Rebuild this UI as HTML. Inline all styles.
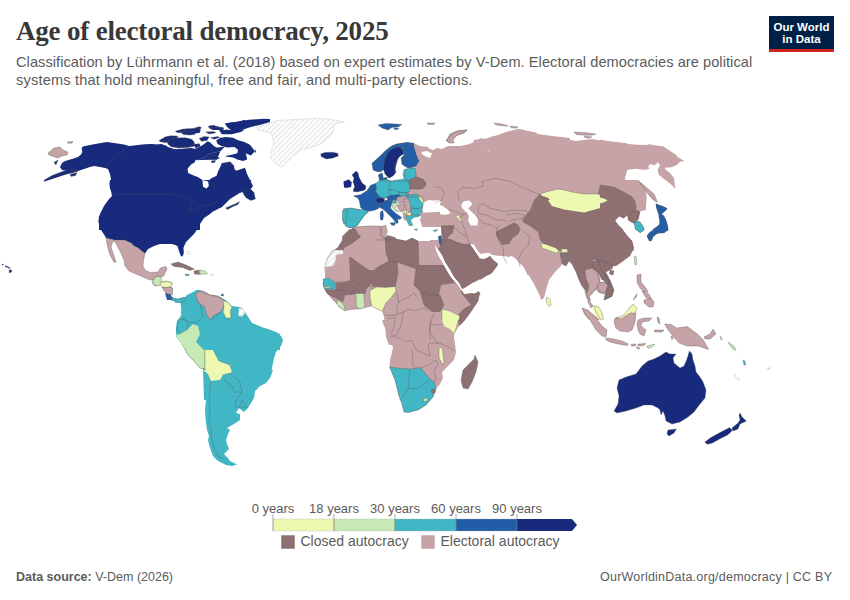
<!DOCTYPE html>
<html><head><meta charset="utf-8">
<style>
html,body{margin:0;padding:0;background:#fff;}
body{width:850px;height:600px;position:relative;overflow:hidden;font-family:"Liberation Sans",sans-serif;}
.t{position:absolute;white-space:nowrap;}
#title{left:16px;top:15px;font-family:"Liberation Serif",serif;font-weight:bold;font-size:27px;color:#383838;letter-spacing:-0.19px;line-height:32px;}
.sub{left:16px;font-size:14.6px;color:#5b5b5b;line-height:18px;}
#logo{position:absolute;left:769px;top:16px;width:65px;height:36px;background:#002147;}
#logo .bar{position:absolute;left:0;bottom:0;width:65px;height:3px;background:#ce261e;}
#logo .lt{position:absolute;left:0;width:65px;text-align:center;color:#fff;font-weight:bold;font-size:11.5px;line-height:12px;}
#map{position:absolute;left:0;top:0;}
.lab{font-size:13px;color:#5b5b5b;}
#foot1{left:16px;top:570px;font-size:12.5px;color:#5b5b5b;}
#foot2{left:600px;top:570px;font-size:12.5px;color:#5b5b5b;letter-spacing:0.23px;}
</style></head><body>
<div class="t" id="title">Age of electoral democracy, 2025</div>
<div class="t sub" style="top:52.5px;letter-spacing:0.055px">Classification by Lührmann et al. (2018) based on expert estimates by V-Dem. Electoral democracies are political</div>
<div class="t sub" style="top:70.8px;letter-spacing:0.17px">systems that hold meaningful, free and fair, and multi-party elections.</div>
<div id="logo"><div class="lt" style="top:5px">Our World</div><div class="lt" style="top:17px">in Data</div><div class="bar"></div></div>

<svg id="map" width="850" height="600" viewBox="0 0 850 600">
<defs><pattern id="hatch" width="3.6" height="3.6" patternUnits="userSpaceOnUse" patternTransform="rotate(45)"><rect width="3.6" height="3.6" fill="#fff"/><line x1="0.6" y1="0" x2="0.6" y2="3.6" stroke="#e2e2e2" stroke-width="1.1"/></pattern></defs>
<g id="land">
<path d="M81.6 148.0 83.0 146.6 90.0 145.0 98.0 143.6 107.0 142.0 114.0 143.0 124.0 144.4 129.0 146.0 134.0 145.6 142.0 144.4 150.0 144.0 158.0 145.0 168.0 147.0 174.0 149.0 182.0 150.0 190.0 149.0 200.0 150.0 200.0 230.0 99.0 230.0 99.0 222.0 100.0 214.0 104.0 206.0 109.0 199.0 112.0 196.0 111.0 191.0 110.0 186.0 111.0 180.0 110.0 174.0 108.0 169.0 105.0 168.0 100.0 167.0 94.0 166.0 90.0 167.0 84.0 169.0 78.0 171.0 72.0 173.0 67.0 174.0 58.0 177.0 48.0 180.0 44.4 181.0 45.0 180.0 56.0 176.0 66.0 172.4 68.0 171.0 62.0 170.0 60.0 167.0 62.0 163.0 65.0 161.0 72.0 159.0 78.0 157.0 81.0 154.4 82.4 152.0Z" fill="#172a7c"/>
<path d="M150.0 150.0 207.0 150.0 234.0 160.0 242.0 168.0 245.0 167.0 247.0 174.0 251.0 182.0 253.0 186.0 250.0 190.0 244.0 192.0 238.0 193.0 230.0 195.0 224.0 198.0 218.0 201.0 216.0 204.0 214.0 210.0 210.0 214.0 204.0 218.0 200.0 224.0 199.0 230.0 150.0 230.0Z" fill="#172a7c"/>
<path d="M150.0 143.9 155.7 144.6 161.3 143.9 167.0 146.0 168.4 149.5 175.5 149.5 182.6 148.8 191.1 148.1 198.2 149.5 203.8 147.4 206.7 144.6 209.5 146.0 212.3 150.2 218.0 153.1 223.7 154.5 229.3 153.1 235.0 155.9 233.6 165.8 229.3 165.8 223.7 160.2 220.8 161.6 215.2 160.2 209.5 158.7 203.8 158.7 198.2 160.2 191.1 164.4 187.5 168.7 188.2 172.9 150.0 172.9Z" fill="#172a7c"/>
<path d="M187.5 168.7 191.1 164.4 198.2 160.2 203.8 158.7 209.5 158.7 215.2 160.2 220.8 161.6 220.8 165.8 218.0 171.5 216.6 175.7 210.9 178.6 208.1 181.4 208.8 185.7 206.7 188.5 203.1 187.1 202.4 180.0 198.2 177.2 192.5 175.0 188.2 172.9Z" fill="#fff"/>
<path d="M209.5 154.5 216.6 153.8 220.8 157.3 218.0 161.6 212.3 160.2Z" fill="#172a7c" stroke="#555" stroke-opacity="0.7" stroke-width="0.5"/>
<path d="M233.6 165.8 239.2 163.0 246.3 158.7 247.7 161.6 240.7 168.7 235.0 170.1Z" fill="#fff"/>
<path d="M216.6 140.3 223.7 137.5 232.2 137.5 240.7 140.3 249.2 144.6 255.5 150.2 252.0 154.5 247.7 153.1 246.6 158.7 239.2 161.6 233.6 157.3 230.7 153.1 226.5 150.2 220.8 147.4 216.6 144.6Z" fill="#172a7c" stroke="#555" stroke-opacity="0.7" stroke-width="0.5"/>
<path d="M225.1 123.3 235.0 121.9 249.2 119.8 263.3 118.8 270.0 119.1 270.0 121.9 260.5 124.7 249.2 127.6 240.7 130.4 235.0 131.8 229.3 129.0 226.5 126.2Z" fill="#172a7c"/>
<path d="M208.1 126.2 213.7 125.5 219.4 126.9 223.7 129.0 220.8 131.8 213.7 130.4 209.5 128.3Z" fill="#172a7c" stroke="#555" stroke-opacity="0.7" stroke-width="0.5"/>
<path d="M218.0 133.2 226.5 132.5 237.8 133.2 235.0 136.1 225.1 136.8 219.4 135.4Z" fill="#172a7c" stroke="#555" stroke-opacity="0.7" stroke-width="0.5"/>
<path d="M175.5 131.1 185.4 129.0 195.3 128.3 199.6 126.9 201.0 129.0 196.7 131.8 186.8 133.2 178.3 132.5Z" fill="#172a7c" stroke="#555" stroke-opacity="0.7" stroke-width="0.5"/>
<path d="M205.2 131.8 212.3 131.1 215.2 133.2 210.9 134.7 205.9 134.0Z" fill="#172a7c" stroke="#555" stroke-opacity="0.7" stroke-width="0.5"/>
<path d="M159.2 141.0 165.6 136.8 175.5 136.1 178.3 139.6 172.7 142.5 164.2 142.5Z" fill="#172a7c" stroke="#555" stroke-opacity="0.7" stroke-width="0.5"/>
<path d="M168.4 140.3 178.3 138.9 189.7 138.9 193.9 141.7 195.3 146.0 188.2 147.4 178.3 148.1 171.2 146.7 167.7 143.9Z" fill="#172a7c" stroke="#555" stroke-opacity="0.7" stroke-width="0.5"/>
<path d="M198.2 138.9 203.8 137.5 209.5 136.8 212.3 140.3 209.5 146.0 203.8 146.7 199.6 144.6Z" fill="#172a7c" stroke="#555" stroke-opacity="0.7" stroke-width="0.5"/>
<path d="M242.4 191.0 250.0 188.6 254.0 192.4 255.4 199.0 251.0 200.4 246.4 198.0 244.0 195.0Z" fill="#172a7c" stroke="#555" stroke-opacity="0.7" stroke-width="0.5"/>
<path d="M225.6 208.0 236.0 203.6 239.6 201.6 238.0 204.4 233.0 206.4 227.6 209.4Z" fill="#172a7c" stroke="#555" stroke-opacity="0.7" stroke-width="0.5"/>
<path d="M255.6 127.7 262.7 124.9 276.8 120.6 289.6 119.9 299.5 119.2 313.7 118.5 325.0 118.8 333.5 119.9 344.8 122.0 336.3 123.5 333.5 125.6 334.2 129.8 330.7 135.5 325.0 140.5 319.3 144.7 310.8 147.5 302.3 149.7 293.8 155.3 286.7 162.4 282.5 166.7 279.7 166.7 274.0 162.4 270.5 156.7 271.2 149.7 274.0 144.0 272.6 138.3 271.2 132.7 262.7 131.2 257.0 129.8Z" fill="url(#hatch)" stroke="#ccc" stroke-width="0.5"/>
<path d="M110.0 180.0 109.4 184.0 110.0 189.0 114.6 194.6 113.2 198.0 108.2 202.0 104.0 208.0 101.0 214.0 99.0 216.0 98.4 222.0 101.0 230.0 105.0 236.0 106.0 238.0 114.0 240.0 124.0 240.0 131.0 243.0 134.0 246.0 138.0 248.0 143.0 252.0 145.0 253.6 148.0 249.0 154.0 246.0 160.0 244.0 166.0 244.0 172.0 244.0 178.0 246.0 180.0 251.0 181.0 256.4 183.2 255.2 183.2 248.0 186.0 242.0 190.0 238.0 194.0 234.0 198.0 228.0 199.0 223.0 203.0 218.0 210.0 213.0 216.0 210.0 222.0 207.0 230.0 199.0 238.0 194.0 244.0 190.0 248.0 184.0 252.0 180.0Z" fill="#172a7c"/>
<path d="M106.0 238.0 114.0 240.0 124.0 240.0 131.0 243.0 134.0 246.0 138.0 248.0 143.0 252.0 145.0 253.6 143.6 260.0 143.0 266.0 145.0 270.0 150.0 272.4 158.0 272.0 160.4 268.0 166.0 266.4 167.0 269.0 163.6 276.0 158.0 278.0 154.0 280.0 150.0 280.0 143.0 277.0 136.0 274.0 129.0 271.0 125.0 266.0 124.0 260.0 120.0 251.0 115.0 242.0 113.0 241.0 111.0 247.0 114.0 256.0 116.0 262.0 114.0 262.4 110.0 255.0 107.6 247.0Z" fill="#c6a3a6" stroke="#555" stroke-opacity="0.7" stroke-width="0.5"/>
<path d="M154.0 278.0 159.0 276.0 160.0 281.0 159.0 285.0 155.0 286.0 152.0 283.0Z" fill="#c7e9b4" stroke="#555" stroke-opacity="0.7" stroke-width="0.5"/>
<path d="M159.0 282.0 166.0 281.0 172.0 282.4 170.0 286.0 166.0 287.0 162.0 286.0Z" fill="#edf8b1" stroke="#555" stroke-opacity="0.7" stroke-width="0.5"/>
<path d="M162.0 286.4 166.0 287.0 170.4 286.0 172.4 289.0 171.0 295.0 167.0 294.0 164.0 290.0Z" fill="#c6a3a6" stroke="#555" stroke-opacity="0.7" stroke-width="0.5"/>
<path d="M165.0 293.0 171.0 295.0 172.0 300.0 167.0 300.0Z" fill="#225ea8"/>
<path d="M172.0 298.0 178.0 299.0 184.0 297.0 190.0 298.0 198.0 295.6 199.0 300.0 172.0 300.0Z" fill="#41b6c4"/>
<path d="M171.0 264.0 178.0 262.0 186.0 265.0 194.4 269.0 190.0 270.4 182.4 267.4 174.0 266.4Z" fill="#8e7072" stroke="#555" stroke-opacity="0.7" stroke-width="0.5"/>
<path d="M185.0 274.0 189.4 274.4 188.4 276.0 185.6 275.6Z" fill="#41b6c4" stroke="#555" stroke-opacity="0.7" stroke-width="0.5"/>
<path d="M194.0 271.0 199.0 270.0 199.6 274.4 194.4 274.0Z" fill="#8e7072" stroke="#555" stroke-opacity="0.7" stroke-width="0.5"/>
<path d="M199.6 270.0 205.0 271.0 207.6 273.6 200.0 274.4Z" fill="#c7e9b4" stroke="#555" stroke-opacity="0.7" stroke-width="0.5"/>
<path d="M172.0 299.0 177.0 302.0 180.0 299.0 183.0 299.0 187.0 295.0 193.0 292.0 198.0 290.0 204.0 291.6 210.0 295.0 218.0 296.0 223.0 299.0 227.0 302.0 231.0 308.0 236.0 307.6 242.0 308.0 244.0 313.0 248.0 321.0 254.0 324.0 260.0 327.0 268.0 329.0 276.0 332.0 281.0 336.0 283.0 340.0 281.0 346.0 276.0 352.0 274.0 358.0 272.0 368.0 271.0 376.0 266.0 382.0 259.0 386.0 254.0 392.0 253.0 400.0 204.0 400.0 203.0 369.0 200.0 368.0 194.0 361.0 188.0 355.0 182.0 344.0 176.0 336.0 176.0 328.0 177.0 321.0 182.0 318.0 181.0 313.0 182.0 306.0 180.0 301.0 176.0 303.0Z" fill="#41b6c4"/>
<path d="M198.0 290.0 204.0 291.6 210.0 295.0 218.0 296.0 223.0 299.0 223.0 300.0 226.0 304.0 225.0 308.0 222.0 311.0 216.0 317.0 210.0 320.0 207.0 315.0 205.0 309.0 200.0 304.0 197.0 299.0 195.0 295.0Z" fill="#c6a3a6" stroke="#555" stroke-opacity="0.7" stroke-width="0.5"/>
<path d="M223.0 300.0 227.0 302.0 231.0 308.0 230.0 312.0 231.0 316.0 227.0 318.0 225.0 312.0 225.6 306.0Z" fill="#edf8b1" stroke="#555" stroke-opacity="0.7" stroke-width="0.5"/>
<path d="M238.0 309.0 242.0 308.0 244.0 313.0 241.0 316.0 238.0 315.6Z" fill="#f4f4f4" stroke="#555" stroke-opacity="0.7" stroke-width="0.5"/>
<path d="M176.0 334.0 180.0 334.0 189.0 324.0 195.0 323.0 200.0 329.0 198.0 335.0 194.0 340.0 205.0 349.0 205.0 369.0 200.0 368.0 194.0 361.0 188.0 355.0 182.0 344.0Z" fill="#c7e9b4" stroke="#555" stroke-opacity="0.7" stroke-width="0.5"/>
<path d="M205.0 349.0 212.0 348.0 219.0 361.0 230.0 365.0 232.0 372.0 223.0 374.0 218.0 378.0 216.0 381.0 210.0 382.0 208.0 374.0 205.0 369.0Z" fill="#edf8b1" stroke="#555" stroke-opacity="0.7" stroke-width="0.5"/>
<path d="M203.0 370.0 205.0 378.0 205.0 390.0 206.0 400.0 205.0 410.0 205.6 420.0 207.0 430.0 209.0 436.0 208.0 440.0 210.0 448.0 213.0 456.0 218.0 461.0 226.0 465.0 232.0 466.0 237.0 464.4 230.0 461.0 227.0 457.0 224.0 454.0 229.0 449.0 227.0 444.0 226.0 440.0 228.0 434.0 230.0 430.0 227.0 428.0 234.0 424.0 240.0 420.0 240.0 414.0 236.0 413.0 239.0 408.0 244.0 412.0 248.0 408.0 254.0 398.0 255.0 391.0 260.0 386.0 266.0 383.0 270.0 378.0 273.0 370.0Z" fill="#41b6c4"/>
<path d="M203.0 370.0 232.0 370.0 231.0 373.0 223.0 375.0 220.0 380.0 211.0 381.0 208.0 374.0Z" fill="#edf8b1"/>
<path d="M413.0 143.0 420.0 146.0 428.0 147.0 432.0 153.0 440.0 152.0 448.0 148.0 460.0 147.0 472.0 143.0 480.0 139.0 490.0 138.0 490.0 235.0 424.0 235.0 420.0 219.0 418.0 213.0 428.0 212.0 424.0 207.0 416.0 205.0 408.0 199.0 406.0 195.0 409.0 192.0 410.0 188.0 409.0 181.0 414.0 168.0 419.0 161.0 416.0 151.0 414.0 145.0Z" fill="#c6a3a6"/>
<path d="M446.0 141.0 450.0 134.0 458.0 130.6 467.0 130.0 464.0 133.0 458.0 135.0 452.0 138.0 449.0 142.0Z" fill="#c6a3a6" stroke="#555" stroke-opacity="0.7" stroke-width="0.5"/>
<path d="M427.0 123.0 435.0 123.0 434.0 124.4 428.0 124.4Z" fill="#c6a3a6" stroke="#555" stroke-opacity="0.7" stroke-width="0.5"/>
<path d="M320.7 153.9 325.0 152.5 332.1 152.2 337.7 153.2 338.4 156.0 332.1 158.2 326.4 158.9 321.4 156.7Z" fill="#172a7c" stroke="#555" stroke-opacity="0.7" stroke-width="0.5"/>
<path d="M378.0 125.0 386.0 123.4 396.0 124.0 402.0 124.6 398.0 127.0 392.0 127.4 388.0 130.0 382.0 128.0Z" fill="#225ea8" stroke="#555" stroke-opacity="0.7" stroke-width="0.5"/>
<path d="M394.0 128.0 399.0 128.2 397.6 129.6 394.4 129.4Z" fill="#225ea8" stroke="#555" stroke-opacity="0.7" stroke-width="0.5"/>
<path d="M372.4 164.0 375.0 160.6 380.0 156.0 385.0 151.0 390.0 147.0 396.0 144.0 406.0 142.6 414.0 143.4 413.6 145.4 408.0 146.2 403.0 148.2 399.0 146.6 392.0 148.0 387.0 153.0 386.0 159.0 385.0 169.0 380.0 172.0 375.0 170.0Z" fill="#225ea8" stroke="#555" stroke-opacity="0.7" stroke-width="0.5"/>
<path d="M386.0 159.0 387.0 153.0 392.0 148.0 399.0 146.6 403.0 149.0 402.0 154.0 398.0 158.0 396.0 165.0 394.4 174.0 389.0 178.0 386.0 173.0 384.4 166.0Z" fill="#172a7c" stroke="#555" stroke-opacity="0.7" stroke-width="0.5"/>
<path d="M403.0 149.0 408.0 146.6 413.6 145.0 416.0 151.0 419.0 161.0 414.0 167.0 408.0 168.0 402.0 164.0 401.0 158.0 404.0 155.0 406.4 152.6Z" fill="#225ea8" stroke="#555" stroke-opacity="0.7" stroke-width="0.5"/>
<path d="M404.0 169.4 414.0 168.0 416.0 175.0 413.0 181.0 405.0 181.0 403.0 175.0Z" fill="#41b6c4" stroke="#555" stroke-opacity="0.7" stroke-width="0.5"/>
<path d="M409.0 181.0 416.0 177.0 422.0 179.0 426.0 183.0 424.0 187.0 418.0 189.0 410.0 188.0Z" fill="#8e7072" stroke="#555" stroke-opacity="0.7" stroke-width="0.5"/>
<path d="M378.6 175.0 382.0 173.0 383.6 179.0 379.6 181.4Z" fill="#225ea8" stroke="#555" stroke-opacity="0.7" stroke-width="0.5"/>
<path d="M384.0 178.0 387.0 177.4 386.6 180.0 384.0 180.0Z" fill="#225ea8" stroke="#555" stroke-opacity="0.7" stroke-width="0.5"/>
<path d="M391.0 181.0 404.0 179.0 409.0 181.0 410.0 188.0 408.0 193.0 400.0 194.0 393.0 191.0 391.0 187.0Z" fill="#41b6c4" stroke="#555" stroke-opacity="0.7" stroke-width="0.5"/>
<path d="M376.0 186.0 380.0 180.0 386.0 179.0 391.0 181.0 391.0 187.0 393.0 191.0 390.0 195.0 391.0 198.0 382.0 198.0 377.0 195.0Z" fill="#41b6c4" stroke="#555" stroke-opacity="0.7" stroke-width="0.5"/>
<path d="M386.0 192.0 393.0 189.4 400.0 188.4 408.0 192.0 409.0 197.0 402.0 199.4 396.0 200.0 389.0 196.0Z" fill="#41b6c4" stroke="#555" stroke-opacity="0.7" stroke-width="0.5"/>
<path d="M387.0 196.0 397.0 195.4 396.4 200.0 387.6 200.6Z" fill="#225ea8" stroke="#555" stroke-opacity="0.7" stroke-width="0.5"/>
<path d="M352.0 175.0 356.0 171.0 358.0 173.0 359.0 177.0 362.0 183.0 366.0 186.0 364.4 190.0 357.0 192.0 353.0 190.4 355.0 186.0 353.0 182.0 354.0 178.0Z" fill="#172a7c" stroke="#555" stroke-opacity="0.7" stroke-width="0.5"/>
<path d="M344.0 183.0 348.0 179.4 351.6 182.0 351.0 187.0 345.0 187.4Z" fill="#172a7c" stroke="#555" stroke-opacity="0.7" stroke-width="0.5"/>
<path d="M371.0 188.0 375.0 184.0 377.0 187.0 377.0 194.0 372.0 194.0Z" fill="#225ea8" stroke="#555" stroke-opacity="0.7" stroke-width="0.5"/>
<path d="M354.0 196.0 363.0 195.0 370.0 189.0 376.0 193.0 380.0 197.0 378.0 203.0 380.0 209.0 376.0 211.0 368.0 209.0 363.0 209.0 361.0 205.0 360.0 199.0Z" fill="#225ea8" stroke="#555" stroke-opacity="0.7" stroke-width="0.5"/>
<path d="M381.6 210.6 383.6 210.0 383.2 214.6 381.6 214.0Z" fill="#225ea8" stroke="#555" stroke-opacity="0.7" stroke-width="0.5"/>
<path d="M376.0 199.0 382.0 198.0 384.4 201.0 380.0 203.4 376.4 202.2Z" fill="#172a7c" stroke="#555" stroke-opacity="0.7" stroke-width="0.5"/>
<path d="M379.6 203.4 386.0 200.0 391.0 201.0 392.0 206.0 396.0 211.0 402.0 216.0 402.4 219.0 399.6 221.0 397.0 219.0 395.0 223.0 392.0 221.0 389.0 214.0 384.0 209.0 381.0 206.6Z" fill="#225ea8" stroke="#555" stroke-opacity="0.7" stroke-width="0.5"/>
<path d="M380.0 213.0 383.0 212.0 383.6 220.0 380.4 220.6Z" fill="#225ea8" stroke="#555" stroke-opacity="0.7" stroke-width="0.5"/>
<path d="M390.0 223.0 396.4 222.0 395.0 226.2Z" fill="#225ea8" stroke="#555" stroke-opacity="0.7" stroke-width="0.5"/>
<path d="M344.4 209.0 350.0 208.0 358.0 209.4 368.4 211.4 366.4 215.0 361.0 220.6 358.4 226.0 352.0 228.0 345.6 226.2 343.0 219.0 345.0 213.4Z" fill="#41b6c4" stroke="#555" stroke-opacity="0.7" stroke-width="0.5"/>
<path d="M391.0 200.0 408.0 195.0 418.0 195.0 424.4 205.0 422.4 213.4 416.4 219.4 412.4 227.4 408.0 224.0 404.0 216.0 399.0 210.0 393.6 205.4Z" fill="#c6a3a6" stroke="#555" stroke-opacity="0.7" stroke-width="0.5"/>
<path d="M392.4 201.0 399.0 201.4 404.0 209.0 399.0 209.4 394.4 205.0Z" fill="#c7e9b4" stroke="#555" stroke-opacity="0.7" stroke-width="0.5"/>
<path d="M402.0 200.6 408.0 202.6 409.6 210.6 404.0 213.0 401.0 207.0Z" fill="#c6a3a6" stroke="#555" stroke-opacity="0.7" stroke-width="0.5"/>
<path d="M406.0 196.0 416.0 194.0 422.0 197.0 424.0 205.0 414.0 208.6 408.0 205.0Z" fill="#41b6c4" stroke="#555" stroke-opacity="0.7" stroke-width="0.5"/>
<path d="M417.6 196.0 422.0 197.0 424.0 202.0 421.0 203.4Z" fill="#edf8b1" stroke="#555" stroke-opacity="0.7" stroke-width="0.5"/>
<path d="M410.0 209.0 422.4 208.0 421.0 213.0 412.0 214.0Z" fill="#41b6c4" stroke="#555" stroke-opacity="0.7" stroke-width="0.5"/>
<path d="M405.6 215.0 414.0 214.0 416.4 219.0 412.4 227.0 408.0 223.0Z" fill="#41b6c4" stroke="#555" stroke-opacity="0.7" stroke-width="0.5"/>
<path d="M404.0 210.6 409.0 212.0 408.4 216.0 405.0 215.0Z" fill="#edf8b1" stroke="#555" stroke-opacity="0.7" stroke-width="0.5"/>
<path d="M418.0 213.0 428.0 212.0 440.0 211.0 450.0 214.0 460.0 219.0 458.0 225.0 450.0 227.0 440.0 227.0 428.0 227.0 424.0 223.0 420.0 219.0Z" fill="#c6a3a6" stroke="#555" stroke-opacity="0.7" stroke-width="0.5"/>
<path d="M424.0 207.0 432.0 201.0 438.0 205.0 443.0 206.0 446.4 211.0 440.0 213.0 428.0 215.0 424.0 211.4Z" fill="#fff"/>
<path d="M462.0 203.0 468.0 201.0 472.0 203.0 470.0 209.0 472.0 215.0 478.0 219.0 476.0 226.0 472.0 228.0 468.0 219.0 464.0 213.0Z" fill="#fff"/>
<path d="M455.0 215.0 460.0 216.0 460.0 220.0 457.0 220.0Z" fill="#edf8b1" stroke="#555" stroke-opacity="0.7" stroke-width="0.5"/>
<path d="M434.0 231.0 438.4 230.4 437.0 232.8Z" fill="#41b6c4" stroke="#555" stroke-opacity="0.7" stroke-width="0.5"/>
<path d="M440.0 227.0 452.0 226.0 452.0 235.0 442.0 235.0Z" fill="#8e7072"/>
<path d="M353.0 228.0 360.0 226.0 380.0 225.0 382.0 225.0 384.0 231.0 385.0 237.0 396.0 239.0 406.0 241.0 412.0 238.0 418.0 241.0 428.0 241.0 438.0 242.0 440.0 249.0 448.0 265.0 454.0 275.0 460.0 285.0 462.4 290.0 472.0 291.0 480.0 291.0 478.0 301.0 470.0 313.0 464.0 321.0 459.0 326.0 454.0 334.0 452.0 345.0 389.0 345.0 386.0 337.0 385.0 325.0 384.0 317.0 382.0 311.0 378.0 309.0 372.0 304.0 364.0 305.0 356.0 308.0 345.0 310.0 338.0 305.0 332.0 299.0 328.0 292.0 324.0 287.0 323.0 283.0 324.0 281.0 326.0 273.0 325.0 265.0 328.0 257.0 332.0 251.0 337.0 249.0 342.0 241.0 348.0 233.0Z" fill="#c6a3a6"/>
<path d="M353.0 228.0 358.0 233.0 360.0 236.0 354.0 241.0 346.0 247.0 337.0 249.0 342.0 241.0 348.0 233.0Z" fill="#8e7072" stroke="#555" stroke-opacity="0.7" stroke-width="0.5"/>
<path d="M337.0 249.0 343.0 250.0 343.6 253.0 335.0 259.0 331.0 265.0 325.0 265.0 328.0 257.0 332.0 251.0Z" fill="#f2f2f2" stroke="#555" stroke-opacity="0.7" stroke-width="0.5"/>
<path d="M323.0 283.0 328.0 279.0 334.0 283.0 336.0 289.0 328.0 290.0 324.0 287.0Z" fill="#41b6c4" stroke="#555" stroke-opacity="0.7" stroke-width="0.5"/>
<path d="M350.0 257.0 371.0 272.0 372.4 283.0 366.0 285.0 358.0 284.0 350.0 289.0 346.0 285.0 336.0 285.0 336.0 283.0 350.0 281.0Z" fill="#8e7072" stroke="#555" stroke-opacity="0.7" stroke-width="0.5"/>
<path d="M371.0 272.0 378.0 267.0 389.0 261.0 397.0 262.0 398.0 273.0 395.0 287.4 380.0 287.0 372.4 283.0Z" fill="#8e7072" stroke="#555" stroke-opacity="0.7" stroke-width="0.5"/>
<path d="M350.0 289.0 358.0 284.0 366.0 285.0 370.0 289.0 364.0 293.0 355.0 295.0 350.0 293.0Z" fill="#8e7072" stroke="#555" stroke-opacity="0.7" stroke-width="0.5"/>
<path d="M328.0 291.0 336.0 290.0 343.0 294.0 340.0 299.0 334.0 297.4Z" fill="#8e7072" stroke="#555" stroke-opacity="0.7" stroke-width="0.5"/>
<path d="M337.6 301.4 342.0 302.0 344.4 310.0 339.0 307.0Z" fill="#c7e9b4" stroke="#555" stroke-opacity="0.7" stroke-width="0.5"/>
<path d="M356.0 294.0 363.0 294.0 364.0 305.0 357.0 308.0Z" fill="#c7e9b4" stroke="#555" stroke-opacity="0.7" stroke-width="0.5"/>
<path d="M371.0 289.0 380.0 287.0 393.0 288.0 396.0 291.0 391.0 298.0 386.0 302.0 382.0 310.0 377.0 309.0 372.0 304.0 370.0 297.0Z" fill="#edf8b1" stroke="#555" stroke-opacity="0.7" stroke-width="0.5"/>
<path d="M385.0 237.0 396.0 239.0 406.0 241.0 412.0 238.0 418.0 241.0 419.0 269.4 414.0 268.0 397.0 262.0 389.0 261.0 386.0 253.0Z" fill="#8e7072" stroke="#555" stroke-opacity="0.7" stroke-width="0.5"/>
<path d="M419.0 265.0 448.0 265.0 452.0 277.0 450.0 283.0 444.0 291.0 440.0 295.0 430.0 295.0 420.0 291.0 414.0 285.0 416.0 269.0Z" fill="#8e7072" stroke="#555" stroke-opacity="0.7" stroke-width="0.5"/>
<path d="M420.0 291.0 430.0 295.0 440.0 295.0 444.0 305.0 440.0 311.4 432.0 311.4 424.0 305.0Z" fill="#8e7072" stroke="#555" stroke-opacity="0.7" stroke-width="0.5"/>
<path d="M448.0 271.0 456.0 281.0 460.4 289.0 456.0 289.0 450.0 283.0Z" fill="#8e7072" stroke="#555" stroke-opacity="0.7" stroke-width="0.5"/>
<path d="M460.0 291.0 472.0 291.0 480.0 291.0 478.0 301.0 470.0 313.0 464.0 321.0 459.0 326.0 458.0 315.0 464.0 309.0 471.6 304.6 468.0 301.0Z" fill="#8e7072" stroke="#555" stroke-opacity="0.7" stroke-width="0.5"/>
<path d="M442.0 309.0 450.0 311.0 460.0 316.0 458.0 323.0 454.4 333.4 448.0 327.0 442.0 323.0Z" fill="#edf8b1" stroke="#555" stroke-opacity="0.7" stroke-width="0.5"/>
<path d="M438.0 244.0 442.0 244.0 450.0 257.0 458.0 273.0 462.4 285.0 465.0 290.0 462.4 291.0 460.0 286.0 454.0 275.0 448.0 265.0 440.0 249.0Z" fill="#fff"/>
<path d="M382.0 320.0 384.0 326.0 390.0 336.0 393.0 348.0 390.0 360.0 389.6 367.0 395.0 380.0 399.0 396.0 402.0 404.0 404.0 412.0 408.0 412.4 418.0 410.0 426.0 405.0 433.0 397.0 436.0 389.0 440.0 384.0 443.0 378.0 442.0 372.0 448.0 366.0 454.0 360.0 456.0 352.0 455.0 344.0 454.0 338.0 454.0 332.0 458.0 326.0 463.0 320.0Z" fill="#c6a3a6"/>
<path d="M389.6 367.0 396.0 368.0 410.0 369.0 421.0 368.0 430.0 379.0 434.0 382.0 436.0 389.0 433.0 397.0 426.0 405.0 418.0 410.0 408.0 412.4 404.0 412.0 402.0 404.0 399.0 396.0 395.0 380.0Z" fill="#41b6c4" stroke="#555" stroke-opacity="0.7" stroke-width="0.5"/>
<path d="M431.0 390.0 434.0 389.0 435.6 392.0 432.4 393.6Z" fill="#8e7072" stroke="#555" stroke-opacity="0.7" stroke-width="0.5"/>
<path d="M423.0 399.0 427.0 397.6 428.0 400.4 424.4 402.0Z" fill="#c7e9b4" stroke="#555" stroke-opacity="0.7" stroke-width="0.5"/>
<path d="M439.0 348.0 442.0 347.0 444.0 362.0 443.0 365.0 439.0 358.0Z" fill="#edf8b1" stroke="#555" stroke-opacity="0.7" stroke-width="0.5"/>
<path d="M442.0 320.0 458.0 320.0 454.0 333.0 450.0 329.0 444.0 326.0Z" fill="#edf8b1"/>
<path d="M458.0 320.0 464.0 320.0 459.0 325.0Z" fill="#8e7072"/>
<path d="M475.0 355.0 478.0 362.0 476.0 372.0 472.0 382.0 468.0 389.0 463.0 388.0 461.0 380.0 463.0 370.0 469.0 364.0 474.0 359.0Z" fill="#8e7072" stroke="#555" stroke-opacity="0.7" stroke-width="0.5"/>
<path d="M480.0 138.0 486.0 140.0 490.0 137.0 498.0 135.0 506.0 132.0 518.0 129.0 528.0 131.0 538.0 133.0 534.0 135.0 544.0 136.0 556.0 137.0 566.0 139.0 576.0 141.0 584.0 140.0 592.0 139.0 604.0 141.0 616.0 142.0 628.0 144.0 640.0 145.0 650.0 145.0 650.0 161.0 625.0 165.0 624.0 180.0 636.0 182.0 643.0 190.0 645.0 206.0 638.0 214.0 632.0 222.0 618.0 230.0 480.0 230.0Z" fill="#c6a3a6"/>
<path d="M574.0 132.0 584.0 132.4 596.0 134.0 592.0 135.2 582.0 135.0 576.0 134.4Z" fill="#c6a3a6" stroke="#555" stroke-opacity="0.7" stroke-width="0.5"/>
<path d="M584.0 136.0 592.0 137.0 589.0 138.2 585.0 137.6Z" fill="#c6a3a6" stroke="#555" stroke-opacity="0.7" stroke-width="0.5"/>
<path d="M494.0 123.0 502.0 124.0 508.0 126.0 502.0 125.8 496.0 125.0Z" fill="#c6a3a6" stroke="#555" stroke-opacity="0.7" stroke-width="0.5"/>
<path d="M510.0 126.0 518.0 127.0 516.0 128.2 511.0 127.6Z" fill="#c6a3a6" stroke="#555" stroke-opacity="0.7" stroke-width="0.5"/>
<path d="M520.0 222.0 522.0 218.0 526.0 212.0 534.0 200.0 540.0 194.0 542.0 196.0 548.0 198.0 554.0 204.0 564.0 208.0 576.0 210.0 584.0 213.0 592.0 208.0 598.0 202.0 608.0 199.0 598.0 194.0 600.0 184.0 608.0 185.0 616.0 190.0 630.0 196.0 638.0 198.0 638.0 204.0 634.0 210.0 636.0 220.0 632.0 222.0 624.0 216.0 620.0 222.0 618.0 230.0 520.0 230.0Z" fill="#8e7072"/>
<path d="M540.0 194.0 546.0 192.0 558.0 189.0 564.0 190.0 572.0 192.0 584.0 194.0 598.0 194.0 608.0 199.0 598.0 202.0 592.0 208.0 584.0 213.0 576.0 210.0 564.0 208.0 554.0 204.0 548.0 198.0 542.0 196.0Z" fill="#edf8b1" stroke="#555" stroke-opacity="0.7" stroke-width="0.5"/>
<path d="M481.0 139.0 484.0 143.0 488.0 149.0 489.0 153.0 486.0 150.0 483.0 145.0Z" fill="#fff"/>
<path d="M600.0 139.4 611.8 141.8 625.9 142.9 630.6 145.3 644.7 144.7 649.4 146.5 647.1 144.1 663.5 146.5 670.6 151.2 676.5 155.3 677.6 157.1 684.7 161.2 680.0 161.8 676.5 165.3 670.6 167.6 665.9 167.6 664.7 168.8 670.6 173.5 674.1 178.2 675.3 188.8 670.6 184.1 664.7 179.4 658.8 174.7 657.6 170.0 660.0 165.3 657.6 161.8 656.5 164.1 654.1 165.3 650.6 164.1 648.2 166.5 649.4 168.8 644.7 170.0 635.3 168.8 627.1 170.0 624.7 179.4 631.8 181.8 637.6 182.9 642.4 185.3 644.7 188.8 645.9 200.6 600.0 200.6Z" fill="#c6a3a6"/>
<path d="M638.8 181.8 642.4 184.1 647.1 188.8 651.8 193.5 655.3 200.0 652.9 199.4 648.2 193.5 643.5 188.8 640.0 184.7Z" fill="#c6a3a6" stroke="#555" stroke-opacity="0.7" stroke-width="0.5"/>
<path d="M656.0 204.0 664.0 207.0 667.0 209.0 662.0 214.0 666.0 222.0 668.0 230.0 652.0 230.0 660.0 224.0 659.0 216.0 657.0 210.0Z" fill="#225ea8"/>
<path d="M600.0 183.0 616.0 185.0 630.0 190.0 638.0 196.0 638.0 204.0 636.0 210.0 632.0 214.0 630.0 218.0 624.0 222.0 620.0 230.0 600.0 230.0Z" fill="#8e7072"/>
<path d="M620.0 218.0 628.0 219.0 632.0 222.0 626.0 228.0 622.0 226.0Z" fill="#8e7072" stroke="#555" stroke-opacity="0.7" stroke-width="0.5"/>
<path d="M634.0 222.0 640.0 225.0 644.0 230.0 636.0 230.0Z" fill="#41b6c4"/>
<path d="M420.0 218.3 540.0 190.0 540.0 275.0 527.6 275.0 522.0 263.7 516.3 256.6 505.0 255.9 493.7 255.2 489.4 253.7 485.2 252.3 479.5 252.3 473.8 246.7 469.6 243.8 448.3 275.0 420.0 275.0Z" fill="#c6a3a6"/>
<path d="M422.1 208.4 425.7 203.5 429.9 201.3 434.2 204.9 441.2 205.6 448.3 209.8 450.5 213.4 445.5 214.8 434.2 214.1 425.7 213.4 422.8 212.7Z" fill="#fff"/>
<path d="M434.9 200.6 439.8 199.9 441.2 202.7 437.0 204.2Z" fill="#fff"/>
<path d="M461.1 205.6 463.9 201.3 469.6 200.6 471.7 204.2 468.2 208.4 472.4 212.7 475.9 215.5 478.1 219.7 477.4 225.4 471.0 225.4 468.2 221.2 468.9 215.5 465.3 211.2 462.5 208.4Z" fill="#fff"/>
<path d="M420.0 224.0 441.2 227.1 441.2 235.3 438.4 241.0 420.0 241.0Z" fill="#fff"/>
<path d="M420.0 241.7 437.0 243.1 439.8 246.7 445.5 260.8 448.3 275.0 420.0 275.0Z" fill="#c6a3a6"/>
<path d="M434.9 244.5 439.8 248.1 444.1 258.0 448.3 266.5 453.3 275.0 447.6 275.0 442.7 265.1 438.4 256.6 434.2 248.1Z" fill="#fff"/>
<path d="M441.2 226.1 454.0 225.4 452.6 232.5 448.3 236.7 442.7 238.9 442.0 232.5Z" fill="#8e7072" stroke="#555" stroke-opacity="0.7" stroke-width="0.5"/>
<path d="M441.2 246.7 448.3 238.9 461.1 243.8 469.6 245.2 473.8 250.9 479.5 258.0 486.6 259.4 488.0 255.2 493.7 260.8 497.9 265.1 495.1 270.7 490.8 275.0 453.3 275.0 448.3 266.5 444.1 258.0Z" fill="#8e7072"/>
<path d="M438.4 246.7 440.5 239.6 448.3 238.9 441.2 246.7Z" fill="#8e7072" stroke="#555" stroke-opacity="0.7" stroke-width="0.5"/>
<path d="M420.0 265.1 445.5 265.1 447.6 275.0 420.0 275.0Z" fill="#8e7072"/>
<path d="M495.1 231.1 500.7 228.2 510.7 225.4 517.7 223.3 516.3 233.9 507.8 239.6 499.3 245.2 496.5 239.6Z" fill="#8e7072" stroke="#555" stroke-opacity="0.7" stroke-width="0.5"/>
<path d="M539.4 194.1 540.0 194.2 540.0 241.0 533.3 236.7 526.2 229.7 520.6 221.2 521.8 219.5 526.5 214.6 529.9 210.7 528.8 208.8 531.0 205.0 533.5 200.6 537.0 196.9Z" fill="#8e7072"/>
<path d="M438.4 236.7 440.5 235.6 441.5 239.6 440.1 244.1 438.7 241.0Z" fill="#225ea8" stroke="#555" stroke-opacity="0.7" stroke-width="0.5"/>
<path d="M433.5 230.4 437.7 229.4 436.7 231.9Z" fill="#41b6c4" stroke="#555" stroke-opacity="0.7" stroke-width="0.5"/>
<path d="M455.4 215.5 459.0 215.2 462.5 220.5 460.4 221.4 457.1 218.3Z" fill="#edf8b1" stroke="#555" stroke-opacity="0.7" stroke-width="0.5"/>
<path d="M480.0 200.0 646.0 200.0 646.0 210.0 618.0 216.0 568.0 252.0 563.0 260.0 561.0 266.0 555.0 272.0 549.0 280.0 546.0 290.0 544.0 298.0 541.0 300.0 540.0 296.0 534.0 284.0 528.0 274.0 526.0 268.0 520.0 264.0 517.0 260.0 512.0 256.0 502.0 255.0 492.0 252.0 480.0 248.0Z" fill="#c6a3a6"/>
<path d="M480.0 256.0 488.0 258.0 496.0 264.0 494.0 270.0 486.0 276.0 480.0 280.0Z" fill="#8e7072"/>
<path d="M522.0 220.0 530.0 210.0 534.0 200.0 548.0 200.0 552.0 206.0 564.0 209.0 584.0 212.0 600.0 208.0 608.0 200.0 632.0 200.0 636.0 206.0 632.0 208.0 620.0 214.0 618.0 220.0 624.0 224.0 628.0 230.0 632.0 240.0 634.0 248.0 630.0 256.0 622.0 262.0 616.0 266.0 610.0 266.4 608.0 262.4 596.0 260.0 588.0 262.0 580.0 252.0 576.0 249.0 568.0 252.0 560.0 251.0 554.0 248.0 544.0 244.0 540.0 240.0 538.0 232.0 530.0 226.0 524.0 223.0Z" fill="#8e7072"/>
<path d="M548.0 200.0 608.0 200.0 600.0 208.0 584.0 212.4 564.0 209.4 552.0 206.0Z" fill="#edf8b1"/>
<path d="M546.6 297.0 550.0 299.6 551.2 305.0 548.4 306.4 546.0 301.0Z" fill="#edf8b1" stroke="#555" stroke-opacity="0.7" stroke-width="0.5"/>
<path d="M541.0 243.0 548.0 245.0 556.0 248.0 559.0 251.0 556.0 253.2 549.0 250.4 542.0 248.0Z" fill="#edf8b1" stroke="#555" stroke-opacity="0.7" stroke-width="0.5"/>
<path d="M561.0 249.0 567.0 249.0 568.0 252.0 562.0 252.4Z" fill="#edf8b1" stroke="#555" stroke-opacity="0.7" stroke-width="0.5"/>
<path d="M560.0 253.0 568.0 253.0 569.0 261.0 566.0 266.0 562.0 264.0 561.0 258.0Z" fill="#8e7072" stroke="#555" stroke-opacity="0.7" stroke-width="0.5"/>
<path d="M568.0 252.0 576.0 249.0 580.0 252.0 582.0 258.0 584.0 264.0 580.0 270.0 584.0 280.0 589.0 288.0 588.0 294.0 582.0 286.0 579.0 280.0 576.0 272.0 572.0 264.0 569.0 261.0Z" fill="#8e7072" stroke="#555" stroke-opacity="0.7" stroke-width="0.5"/>
<path d="M584.0 268.0 592.0 268.0 598.0 272.0 600.0 280.0 598.0 288.0 592.0 292.4 589.0 296.0 590.4 300.4 587.0 298.4 585.0 292.0 586.0 284.0 584.0 276.0Z" fill="#c6a3a6" stroke="#555" stroke-opacity="0.7" stroke-width="0.5"/>
<path d="M588.0 262.0 596.0 261.0 602.0 266.0 608.0 278.0 602.0 280.0 598.0 272.0 592.0 268.0Z" fill="#8e7072" stroke="#555" stroke-opacity="0.7" stroke-width="0.5"/>
<path d="M596.0 260.0 608.0 262.0 612.4 266.4 604.0 272.4 610.0 280.0 614.0 290.0 612.0 296.4 604.4 300.0 606.0 290.0 608.0 280.0 602.0 266.0Z" fill="#8e7072" stroke="#555" stroke-opacity="0.7" stroke-width="0.5"/>
<path d="M594.0 284.0 602.0 282.0 608.0 286.0 604.0 294.0 598.0 292.0Z" fill="#c6a3a6" stroke="#555" stroke-opacity="0.7" stroke-width="0.5"/>
<path d="M591.6 304.0 598.0 308.0 602.4 316.0 600.4 320.0 596.0 316.4 593.0 310.4Z" fill="#edf8b1"/>
<path d="M582.0 308.0 590.0 312.0 598.0 318.0 600.0 320.0 589.0 320.0 584.0 314.0Z" fill="#c6a3a6"/>
<path d="M632.0 208.0 640.0 212.0 638.0 220.0 634.0 222.0 632.0 216.0Z" fill="#8e7072" stroke="#555" stroke-opacity="0.7" stroke-width="0.5"/>
<path d="M634.0 222.0 640.0 222.0 644.0 229.0 640.0 233.0 636.0 230.0Z" fill="#41b6c4" stroke="#555" stroke-opacity="0.7" stroke-width="0.5"/>
<path d="M634.0 257.0 636.0 256.0 637.0 264.0 635.0 265.0Z" fill="#c7e9b4" stroke="#555" stroke-opacity="0.7" stroke-width="0.5"/>
<path d="M610.0 270.0 614.0 271.0 613.0 275.0 609.6 274.0Z" fill="#8e7072" stroke="#555" stroke-opacity="0.7" stroke-width="0.5"/>
<path d="M496.0 232.0 504.0 228.0 514.0 223.0 518.0 225.0 520.0 229.0 518.0 234.0 512.0 238.0 510.0 242.0 500.0 245.0 497.0 240.0Z" fill="#8e7072" stroke="#555" stroke-opacity="0.7" stroke-width="0.5"/>
<path d="M582.0 308.0 588.0 310.0 596.0 318.0 602.0 326.0 607.0 330.0 606.0 337.0 602.0 336.0 596.0 330.0 590.0 320.0 584.0 312.0Z" fill="#c6a3a6" stroke="#555" stroke-opacity="0.7" stroke-width="0.5"/>
<path d="M606.0 338.0 614.0 339.0 622.0 341.0 628.4 344.0 627.0 345.6 618.0 344.0 610.0 342.0 606.0 340.0Z" fill="#c6a3a6" stroke="#555" stroke-opacity="0.7" stroke-width="0.5"/>
<path d="M631.0 344.4 636.0 344.0 635.0 346.0 631.6 346.0Z" fill="#c6a3a6" stroke="#555" stroke-opacity="0.7" stroke-width="0.5"/>
<path d="M638.0 344.0 646.0 343.6 644.0 345.6 638.0 346.0Z" fill="#c6a3a6" stroke="#555" stroke-opacity="0.7" stroke-width="0.5"/>
<path d="M636.0 347.0 640.0 348.0 638.0 349.2Z" fill="#c6a3a6" stroke="#555" stroke-opacity="0.7" stroke-width="0.5"/>
<path d="M647.0 346.0 655.0 344.0 652.0 347.0 648.0 348.4Z" fill="#c7e9b4" stroke="#555" stroke-opacity="0.7" stroke-width="0.5"/>
<path d="M615.0 318.0 622.0 317.0 630.0 312.0 636.0 313.0 635.0 322.0 632.0 330.0 628.0 332.0 620.0 331.0 616.0 328.0 614.0 322.0Z" fill="#c6a3a6" stroke="#555" stroke-opacity="0.7" stroke-width="0.5"/>
<path d="M616.0 318.0 624.0 315.0 630.0 307.0 633.0 304.0 637.0 308.0 635.0 313.0 630.0 313.0 622.0 318.4Z" fill="#edf8b1" stroke="#555" stroke-opacity="0.7" stroke-width="0.5"/>
<path d="M638.0 320.0 644.0 318.0 652.0 318.0 649.0 321.0 642.0 322.0 641.0 326.0 646.0 330.0 644.0 336.0 640.0 334.0 638.0 330.0 637.0 324.0Z" fill="#c6a3a6" stroke="#555" stroke-opacity="0.7" stroke-width="0.5"/>
<path d="M594.0 306.0 599.0 307.0 602.0 313.0 603.6 319.0 601.0 320.0 596.0 312.0Z" fill="#edf8b1" stroke="#555" stroke-opacity="0.7" stroke-width="0.5"/>
<path d="M664.6 324.0 671.0 324.4 676.6 328.0 687.4 326.6 698.0 334.6 703.4 340.0 708.6 349.4 698.0 346.0 687.4 346.0 679.4 343.2 674.0 337.4 668.6 330.6Z" fill="#c6a3a6" stroke="#555" stroke-opacity="0.7" stroke-width="0.5"/>
<path d="M704.0 337.0 710.0 334.0 713.0 329.0 716.0 334.0 710.0 339.0 705.0 339.0Z" fill="#c6a3a6" stroke="#555" stroke-opacity="0.7" stroke-width="0.5"/>
<path d="M720.0 336.0 722.4 339.0 721.0 340.0Z" fill="#c7e9b4" stroke="#555" stroke-opacity="0.7" stroke-width="0.5"/>
<path d="M728.0 342.0 734.0 346.0 736.0 350.4 732.0 348.4Z" fill="#c7e9b4" stroke="#555" stroke-opacity="0.7" stroke-width="0.5"/>
<path d="M637.0 275.0 641.0 274.0 641.0 282.0 646.0 288.0 648.0 292.0 644.0 292.0 640.0 288.0 637.0 282.0Z" fill="#c6a3a6" stroke="#555" stroke-opacity="0.7" stroke-width="0.5"/>
<path d="M644.0 300.0 651.0 298.0 654.0 302.0 653.0 307.0 649.0 307.0 644.0 303.0Z" fill="#c6a3a6" stroke="#555" stroke-opacity="0.7" stroke-width="0.5"/>
<path d="M642.0 291.0 649.0 294.0 651.0 299.0 646.0 298.0Z" fill="#c6a3a6" stroke="#555" stroke-opacity="0.7" stroke-width="0.5"/>
<path d="M633.0 300.0 637.0 293.6 636.0 297.6Z" fill="#c6a3a6" stroke="#555" stroke-opacity="0.7" stroke-width="0.5"/>
<path d="M657.0 317.0 659.0 318.0 660.0 324.0 658.0 322.4Z" fill="#c6a3a6" stroke="#555" stroke-opacity="0.7" stroke-width="0.5"/>
<path d="M654.0 330.0 664.0 330.0 662.0 332.0 655.0 332.0Z" fill="#c6a3a6" stroke="#555" stroke-opacity="0.7" stroke-width="0.5"/>
<path d="M671.0 336.0 673.0 337.0 672.0 340.0Z" fill="#c6a3a6" stroke="#555" stroke-opacity="0.7" stroke-width="0.5"/>
<path d="M619.0 380.0 626.0 377.0 636.0 374.0 642.0 366.0 648.0 361.0 654.0 359.0 660.0 356.0 666.0 352.0 670.0 354.0 676.0 354.0 673.0 358.0 674.0 363.0 680.0 368.0 684.0 366.0 687.0 359.0 689.4 351.0 692.0 354.0 693.0 360.0 695.0 366.0 696.0 372.0 700.0 377.0 703.0 382.0 706.0 390.0 705.0 398.0 700.0 404.0 694.0 412.0 688.0 417.0 680.0 422.0 672.0 424.0 666.0 421.0 665.0 416.0 663.0 411.0 661.0 415.0 660.0 410.0 658.0 408.0 652.0 405.0 644.0 405.0 636.0 408.0 626.0 411.0 617.0 413.0 614.0 411.0 618.0 404.0 619.0 396.0 617.0 388.0Z" fill="#172a7c" stroke="#555" stroke-opacity="0.7" stroke-width="0.5"/>
<path d="M668.0 430.0 676.4 429.0 674.0 433.0 669.0 436.0 667.0 434.0Z" fill="#172a7c" stroke="#555" stroke-opacity="0.7" stroke-width="0.5"/>
<path d="M740.0 413.0 742.0 417.0 746.4 421.0 740.0 424.0 738.0 429.0 733.0 431.0 732.0 428.0 738.0 423.0 740.0 420.0 739.0 415.0Z" fill="#172a7c" stroke="#555" stroke-opacity="0.7" stroke-width="0.5"/>
<path d="M729.6 427.6 732.4 430.4 728.0 434.8 720.0 438.8 712.0 443.2 707.0 444.2 704.8 442.0 711.0 437.4 720.0 432.6Z" fill="#172a7c" stroke="#555" stroke-opacity="0.7" stroke-width="0.5"/>
<path d="M734.0 374.0 740.0 379.0 739.0 381.0 734.4 377.0Z" fill="url(#hatch)" stroke="#ccc" stroke-width="0.5"/>
<path d="M743.0 360.0 745.0 361.0 745.6 365.0 744.0 365.0Z" fill="#41b6c4" stroke="#555" stroke-opacity="0.7" stroke-width="0.5"/>
<path d="M767.0 368.0 770.0 367.0 770.0 370.0 767.6 370.0Z" fill="#c7e9b4"/>
<path d="M202.4 180.0 208.1 181.4 208.8 185.7 206.7 188.5 203.1 187.1Z" fill="#fff"/>
<path d="M48.0 153.0 54.0 148.0 60.0 147.0 63.0 150.0 68.0 152.0 67.0 155.0 62.0 156.0 58.0 158.0 52.0 156.0 49.0 155.0Z" fill="#c6a3a6" stroke="#555" stroke-opacity="0.7" stroke-width="0.5"/>
<path d="M67.0 142.0 73.0 141.4 72.0 143.2 68.0 143.2Z" fill="#c6a3a6" stroke="#555" stroke-opacity="0.7" stroke-width="0.5"/>
<path d="M9.2 270.0 11.0 269.8 12.1 271.0 10.8 272.5 9.2 272.8Z" fill="#172a7c" stroke="#555" stroke-opacity="0.7" stroke-width="0.5"/>
<path d="M5.0 265.8 6.5 266.0 10.0 267.8 9.8 268.8 7.0 267.2 5.0 266.5Z" fill="#172a7c" stroke="#555" stroke-opacity="0.7" stroke-width="0.5"/>
<path d="M2.0 264.1 3.5 264.2 3.2 265.0 2.1 264.9Z" fill="#172a7c" stroke="#555" stroke-opacity="0.7" stroke-width="0.5"/>
<path d="M430.0 235.0 510.0 235.0 510.0 257.0 498.0 255.5 490.0 253.0 486.0 253.0 480.0 254.0 478.0 251.0 473.0 244.5 470.0 242.0 466.0 238.0 463.0 235.0Z" fill="#c6a3a6"/>
<path d="M430.0 240.0 439.0 240.0 445.0 265.0 430.0 265.0Z" fill="#c6a3a6"/>
<path d="M430.0 265.0 445.0 265.0 450.0 273.0 454.0 277.5 459.0 284.0 460.5 289.5 454.0 288.0 445.0 282.0 430.0 282.0Z" fill="#8e7072"/>
<path d="M441.0 285.0 455.0 283.0 461.2 290.5 459.0 295.0 439.0 295.0Z" fill="#c6a3a6"/>
<path d="M442.0 235.0 448.5 235.0 447.5 239.0 443.5 239.5Z" fill="#8e7072"/>
<path d="M496.0 235.0 510.0 235.0 510.0 244.0 502.0 245.0Z" fill="#8e7072"/>
<path d="M441.0 245.0 445.0 241.0 450.0 239.0 458.0 243.0 466.0 244.5 470.0 244.0 473.0 248.0 477.0 254.0 480.0 258.5 486.0 256.0 489.0 253.5 490.0 256.0 493.0 260.0 498.0 264.0 494.0 270.0 490.0 274.0 482.0 278.0 472.0 283.0 463.0 289.0 461.5 288.0 459.0 283.0 454.0 277.0 450.0 270.0 445.0 262.0 440.0 252.0 438.5 249.0Z" fill="#8e7072" stroke="#555" stroke-opacity="0.7" stroke-width="0.5"/>
<path d="M434.5 244.5 438.0 249.5 442.0 255.0 445.0 262.0 450.0 270.0 454.0 277.0 459.0 283.0 461.8 289.0 464.0 293.0 462.0 291.0 459.0 287.0 455.0 282.0 450.0 276.0 446.0 269.0 442.0 262.0 438.0 255.0 436.0 250.0Z" fill="#fff"/>
<path d="M461.8 289.5 472.0 284.0 482.0 279.0 492.0 273.0 498.0 265.0 510.0 257.0 510.0 295.0 480.0 295.0 472.0 293.0 464.0 294.0Z" fill="#fff"/>
<path d="M472.0 295.0 479.0 291.0 480.5 295.0Z" fill="#8e7072"/>
<path d="M470.0 244.0 474.0 244.5 477.0 250.0 481.0 255.0 487.0 254.0 490.0 252.5 491.0 255.0 488.0 257.2 484.0 259.0 480.0 258.5 477.0 254.0 473.0 248.0Z" fill="#fff"/>
<path d="M439.0 236.0 441.0 236.0 441.2 243.0 440.0 245.0 439.0 241.0Z" fill="#225ea8" stroke="#555" stroke-opacity="0.7" stroke-width="0.5"/>
<path d="M615.0 220.0 620.0 217.0 623.6 219.0 626.4 225.0 623.0 230.0 627.0 236.0 632.4 241.0 640.0 240.0 640.0 230.0 635.0 225.0 632.4 223.0 628.0 220.0 623.0 216.0 618.0 217.0Z" fill="#fff"/>
<path d="M623.0 214.0 632.4 209.0 638.0 212.0 636.4 218.0 633.0 222.4 630.0 220.0 626.4 218.0Z" fill="#8e7072" stroke="#555" stroke-opacity="0.7" stroke-width="0.5"/>
<path d="M634.4 221.6 640.0 222.4 644.0 229.0 640.0 232.4 637.0 230.0Z" fill="#41b6c4" stroke="#555" stroke-opacity="0.7" stroke-width="0.5"/>
<path d="M656.0 204.0 662.0 206.0 667.0 209.0 663.0 212.0 659.0 213.0 657.0 209.0Z" fill="#225ea8" stroke="#555" stroke-opacity="0.7" stroke-width="0.5"/>
<path d="M660.0 215.0 665.0 218.0 668.0 230.0 664.0 233.0 658.0 233.0 654.0 236.0 650.0 240.0 647.0 237.0 650.0 232.0 658.0 228.0 662.0 222.0 660.0 218.0Z" fill="#225ea8" stroke="#555" stroke-opacity="0.7" stroke-width="0.5"/>
<path d="M648.0 235.0 653.0 235.0 652.0 240.0 649.0 241.0Z" fill="#225ea8" stroke="#555" stroke-opacity="0.7" stroke-width="0.5"/>
<path d="M580.0 250.0 588.0 252.0 592.0 260.0 594.0 268.0 585.0 270.0 586.0 278.0 589.0 286.0 587.0 294.0 584.0 284.0 580.0 280.0Z" fill="#8e7072"/>
<path d="M585.0 270.0 592.0 268.0 597.0 272.0 599.0 280.0 600.0 284.0 597.0 286.0 595.0 290.0 592.0 294.0 589.0 296.0 590.0 302.0 593.0 306.0 591.0 308.0 588.0 302.0 587.0 294.0 589.0 286.0 586.0 278.0Z" fill="#c6a3a6" stroke="#555" stroke-opacity="0.7" stroke-width="0.5"/>
<path d="M591.0 262.0 598.0 260.0 601.0 266.0 608.0 276.0 610.0 282.0 606.0 284.0 602.0 278.0 599.0 272.0 594.0 268.0Z" fill="#8e7072" stroke="#555" stroke-opacity="0.7" stroke-width="0.5"/>
<path d="M598.0 260.0 610.0 264.0 613.0 268.0 606.0 272.0 605.0 276.0 610.0 282.0 613.0 290.0 612.0 295.0 604.0 300.0 606.0 292.0 609.0 286.0 608.0 279.0 603.0 273.0 600.0 266.0Z" fill="#8e7072" stroke="#555" stroke-opacity="0.7" stroke-width="0.5"/>
<path d="M597.0 284.0 603.0 282.0 608.0 285.0 605.0 293.0 600.0 292.0Z" fill="#c6a3a6" stroke="#555" stroke-opacity="0.7" stroke-width="0.5"/>
<path d="M180.0 300.0 186.0 299.0 192.0 294.0 196.0 290.0 200.0 290.0 204.0 296.0 212.0 296.0 224.0 299.0 232.0 306.0 240.0 307.0 245.0 312.0 252.0 323.0 264.0 328.0 280.0 334.0 280.0 350.0 186.0 350.0 180.0 342.0 176.0 335.0 177.0 330.0 178.0 320.0 182.0 314.0Z" fill="#41b6c4"/>
<path d="M195.6 293.6 200.0 291.0 208.0 294.4 218.0 297.0 224.4 300.4 223.6 306.4 221.0 312.0 214.0 315.0 210.4 320.0 206.4 314.0 204.0 306.4 197.6 302.4Z" fill="#c6a3a6" stroke="#555" stroke-opacity="0.7" stroke-width="0.5"/>
<path d="M223.0 300.4 228.0 302.4 232.0 307.0 230.4 311.0 231.0 318.0 226.0 318.0 223.0 312.0 224.0 306.4Z" fill="#edf8b1" stroke="#555" stroke-opacity="0.7" stroke-width="0.5"/>
<path d="M239.0 308.0 243.0 309.0 245.0 313.0 242.0 316.4 238.4 315.6Z" fill="url(#hatch)" stroke="#ccc" stroke-width="0.5"/>
<path d="M178.0 320.0 184.0 319.0 188.0 324.0 186.0 331.0 180.0 334.0 177.0 330.0Z" fill="#41b6c4" stroke="#555" stroke-opacity="0.7" stroke-width="0.5"/>
<path d="M176.6 334.4 180.0 334.0 187.0 330.0 193.0 324.0 198.0 326.0 200.0 334.0 196.0 342.0 204.0 350.0 186.0 350.0 180.0 342.0 176.0 335.0Z" fill="#c7e9b4"/>
<path d="M153.0 281.0 156.0 276.4 161.0 277.0 161.6 283.0 159.0 286.0 154.0 285.0Z" fill="#c7e9b4" stroke="#555" stroke-opacity="0.7" stroke-width="0.5"/>
<path d="M160.0 282.4 168.0 281.6 173.0 284.0 170.0 287.0 165.0 288.0 161.0 286.0Z" fill="#edf8b1" stroke="#555" stroke-opacity="0.7" stroke-width="0.5"/>
<path d="M162.4 287.6 170.0 287.0 172.4 288.0 172.4 295.0 168.0 294.0 164.4 291.0Z" fill="#c6a3a6" stroke="#555" stroke-opacity="0.7" stroke-width="0.5"/>
<path d="M165.6 294.0 169.6 294.4 173.0 298.0 172.4 300.4 168.0 298.0Z" fill="#225ea8" stroke="#555" stroke-opacity="0.7" stroke-width="0.5"/>
<path d="M171.0 297.6 178.0 299.0 184.0 297.6 186.4 300.0 182.0 302.4 177.0 302.4 173.0 300.4Z" fill="#41b6c4" stroke="#555" stroke-opacity="0.7" stroke-width="0.5"/>
<path d="M355.3 227.1 357.6 225.3 365.9 214.1 378.8 207.6 392.9 201.2 405.9 201.2 410.6 215.3 422.4 215.3 440.0 226.5 440.0 232.4 422.4 230.6 401.2 229.4 387.1 231.8 381.2 226.5 369.4 225.9Z" fill="#fff"/>
<path d="M422.4 202.4 429.4 200.0 440.0 201.2 440.0 210.8 422.4 209.6 423.5 205.9Z" fill="#fff"/>
<path d="M342.4 236.5 349.4 229.4 355.3 229.4 358.8 235.3 360.0 240.0 342.4 240.0Z" fill="#8e7072" stroke="#555" stroke-opacity="0.7" stroke-width="0.5"/>
<path d="M355.3 227.1 369.4 225.9 380.0 225.9 381.2 235.3 384.7 240.0 360.0 240.0 358.8 235.3 355.3 229.4Z" fill="#c6a3a6" stroke="#555" stroke-opacity="0.7" stroke-width="0.5"/>
<path d="M381.2 226.5 385.9 225.3 387.3 231.8 384.7 238.8 381.2 235.3Z" fill="#c6a3a6" stroke="#555" stroke-opacity="0.7" stroke-width="0.5"/>
<path d="M387.1 235.3 395.3 237.6 395.3 240.0 385.9 240.0Z" fill="#8e7072" stroke="#555" stroke-opacity="0.7" stroke-width="0.5"/>
<path d="M355.3 180.0 360.0 181.2 363.5 184.7 365.9 188.2 364.7 190.0 357.6 191.2 352.9 191.8 355.3 188.2 354.1 184.7Z" fill="#172a7c"/>
<path d="M343.5 181.2 349.4 180.0 351.2 183.5 348.2 187.6 344.1 187.6Z" fill="#172a7c"/>
<path d="M375.3 183.5 380.0 180.6 390.6 181.2 391.8 184.7 389.4 190.6 391.8 195.3 388.2 196.5 384.7 197.6 378.8 196.5 377.6 194.1 375.9 191.8 375.3 187.1Z" fill="#41b6c4" stroke="#555" stroke-opacity="0.7" stroke-width="0.5"/>
<path d="M390.6 181.2 408.2 181.2 410.6 187.1 409.4 191.8 404.7 192.9 398.8 191.8 391.8 190.6 389.4 187.1Z" fill="#41b6c4" stroke="#555" stroke-opacity="0.7" stroke-width="0.5"/>
<path d="M387.6 190.6 394.1 190.0 398.8 191.8 400.0 194.1 395.3 195.3 389.4 194.7Z" fill="#41b6c4" stroke="#555" stroke-opacity="0.7" stroke-width="0.5"/>
<path d="M398.8 192.4 405.9 192.9 408.2 194.7 403.5 196.5 400.0 195.9Z" fill="#41b6c4" stroke="#555" stroke-opacity="0.7" stroke-width="0.5"/>
<path d="M367.1 190.6 370.6 185.3 375.3 183.5 376.5 187.1 375.3 191.8 372.4 188.8Z" fill="#225ea8" stroke="#555" stroke-opacity="0.7" stroke-width="0.5"/>
<path d="M354.1 195.9 360.6 194.7 367.1 190.6 372.4 188.8 375.3 191.8 378.2 195.3 375.9 199.4 377.6 203.5 378.8 208.2 375.3 210.0 369.4 211.2 363.5 210.0 360.6 207.6 359.4 201.2 357.6 197.6Z" fill="#225ea8" stroke="#555" stroke-opacity="0.7" stroke-width="0.5"/>
<path d="M388.2 196.5 396.5 194.7 400.0 195.3 397.6 199.4 391.8 200.0 388.2 198.8Z" fill="#225ea8" stroke="#555" stroke-opacity="0.7" stroke-width="0.5"/>
<path d="M396.5 197.6 403.5 195.9 409.4 197.6 405.9 202.4 400.0 202.9 397.1 200.6Z" fill="#c6a3a6" stroke="#555" stroke-opacity="0.7" stroke-width="0.5"/>
<path d="M375.9 199.4 380.0 197.6 384.7 198.8 383.5 202.4 377.6 202.9Z" fill="#172a7c" stroke="#555" stroke-opacity="0.7" stroke-width="0.5"/>
<path d="M377.6 203.5 383.5 202.4 387.1 200.6 392.9 200.6 391.8 203.5 390.6 208.2 395.3 212.9 401.8 217.6 400.0 219.4 397.6 218.8 398.2 222.4 396.5 223.8 392.9 218.8 388.2 214.1 383.5 209.4 378.8 207.1Z" fill="#225ea8" stroke="#555" stroke-opacity="0.7" stroke-width="0.5"/>
<path d="M380.6 211.8 382.9 210.4 383.5 215.3 382.9 220.0 380.6 220.0 380.0 215.3Z" fill="#225ea8" stroke="#555" stroke-opacity="0.7" stroke-width="0.5"/>
<path d="M390.0 222.9 395.3 222.4 394.7 225.3 391.8 225.3Z" fill="#225ea8" stroke="#555" stroke-opacity="0.7" stroke-width="0.5"/>
<path d="M391.8 200.2 395.9 200.0 396.5 202.9 392.9 203.3Z" fill="#41b6c4" stroke="#555" stroke-opacity="0.7" stroke-width="0.5"/>
<path d="M392.9 202.9 398.8 202.9 402.6 204.7 400.0 206.5 396.5 205.3 395.3 208.2 398.8 211.8 395.3 210.8 392.4 207.1Z" fill="#c7e9b4" stroke="#555" stroke-opacity="0.7" stroke-width="0.5"/>
<path d="M397.6 205.3 403.5 203.5 405.9 208.2 404.1 211.5 400.0 211.2 397.6 207.6Z" fill="#c6a3a6" stroke="#555" stroke-opacity="0.7" stroke-width="0.5"/>
<path d="M403.5 198.8 409.4 198.8 411.8 204.7 410.6 210.6 407.1 212.4 405.3 208.2 404.1 203.5Z" fill="#c6a3a6" stroke="#555" stroke-opacity="0.7" stroke-width="0.5"/>
<path d="M401.8 211.2 404.7 210.6 405.3 212.9 402.9 213.5Z" fill="#edf8b1" stroke="#555" stroke-opacity="0.7" stroke-width="0.5"/>
<path d="M405.9 211.2 408.2 210.6 408.8 212.9 406.5 213.5Z" fill="#edf8b1" stroke="#555" stroke-opacity="0.7" stroke-width="0.5"/>
<path d="M406.5 213.2 410.6 212.4 411.8 215.3 407.6 215.9Z" fill="#edf8b1" stroke="#555" stroke-opacity="0.7" stroke-width="0.5"/>
<path d="M403.5 213.5 406.5 214.1 407.6 218.8 405.3 220.6 403.5 217.6Z" fill="#c6a3a6" stroke="#555" stroke-opacity="0.7" stroke-width="0.5"/>
<path d="M407.1 197.6 417.6 196.5 423.5 201.8 422.4 207.1 416.5 208.8 410.6 207.1 409.4 201.2Z" fill="#41b6c4" stroke="#555" stroke-opacity="0.7" stroke-width="0.5"/>
<path d="M418.2 196.5 421.2 197.1 424.1 202.4 422.4 202.9 420.0 200.0Z" fill="#edf8b1" stroke="#555" stroke-opacity="0.7" stroke-width="0.5"/>
<path d="M410.6 208.2 416.5 208.8 422.4 207.6 421.2 214.1 414.1 215.3 411.2 212.9Z" fill="#41b6c4" stroke="#555" stroke-opacity="0.7" stroke-width="0.5"/>
<path d="M405.9 215.9 414.1 215.3 421.2 214.7 418.8 216.5 413.5 217.6 410.6 220.6 412.9 225.3 409.4 225.9 407.1 221.2Z" fill="#41b6c4" stroke="#555" stroke-opacity="0.7" stroke-width="0.5"/>
<path d="M418.8 212.9 440.0 211.8 440.0 227.1 422.4 227.1 420.0 220.0 421.2 215.3Z" fill="#c6a3a6"/>
<path d="M343.5 208.8 351.8 208.2 357.6 209.4 364.7 210.0 368.2 211.8 365.9 214.1 362.4 216.5 360.0 221.2 357.6 225.3 351.8 227.6 347.1 227.1 344.7 224.1 342.4 220.0 343.5 215.3Z" fill="#41b6c4" stroke="#555" stroke-opacity="0.7" stroke-width="0.5"/>
<path d="M342.4 210.6 347.1 210.0 347.1 215.3 345.9 223.5 343.5 223.5 342.4 217.6Z" fill="#41b6c4" stroke="#555" stroke-opacity="0.7" stroke-width="0.5"/>
<path d="M414.1 229.4 417.6 228.8 416.5 230.6Z" fill="#41b6c4" stroke="#555" stroke-opacity="0.7" stroke-width="0.5"/>
<path d="M432.9 230.6 437.6 229.4 435.9 231.8Z" fill="#41b6c4" stroke="#555" stroke-opacity="0.7" stroke-width="0.5"/>
<path d="M220.0 157.0 234.0 158.0 242.1 161.0 246.5 158.7 252.5 155.1 255.9 151.9 265.0 151.9 265.0 182.0 252.5 182.0 248.9 176.0 245.0 167.8 236.0 170.8 235.0 165.5 231.4 162.4 222.5 161.9 217.0 162.4Z" fill="#fff"/>
<path d="M215.0 145.0 224.8 144.4 233.9 146.8 237.5 150.5 233.9 155.1 224.8 157.0 217.0 154.1Z" fill="#fff"/>
<path d="M209.1 155.9 213.7 154.1 219.5 155.2 218.7 159.6 212.3 159.6Z" fill="#172a7c" stroke="#555" stroke-opacity="0.7" stroke-width="0.5"/>
<path d="M235.0 140.3 240.7 140.3 249.2 144.6 255.5 150.2 255.9 151.9 252.5 155.1 246.5 158.7 242.1 161.0 234.0 158.0 240.7 154.5 237.5 150.5 233.9 146.8Z" fill="#172a7c" stroke="#555" stroke-opacity="0.7" stroke-width="0.5"/>
<path d="M414.0 146.0 422.0 147.0 433.0 150.0 437.0 148.0 442.0 149.0 448.0 146.0 460.0 146.0 466.0 145.0 472.0 147.0 474.0 140.0 480.0 139.0 486.0 142.0 488.0 150.0 489.0 153.0 490.0 144.0 498.0 135.0 508.0 133.0 520.0 129.0 538.0 134.0 552.0 136.0 570.0 138.0 570.0 170.0 420.0 170.0 419.0 162.0 416.0 154.0Z" fill="#c6a3a6"/>
<path d="M421.0 152.0 427.0 151.0 432.0 153.6 430.0 158.0 425.6 156.4 422.4 154.4Z" fill="#fff"/>
<path d="M447.0 140.0 452.0 134.0 460.0 131.0 467.0 130.0 464.0 132.4 457.0 135.0 453.0 140.0 454.0 143.0 449.0 143.0Z" fill="#c6a3a6" stroke="#555" stroke-opacity="0.7" stroke-width="0.5"/>
<path d="M68.0 169.6 60.0 172.4 52.0 175.6 44.4 180.0 44.0 181.4 53.0 178.4 62.0 175.2 70.0 173.2 78.0 171.2Z" fill="#172a7c" stroke="#555" stroke-opacity="0.7" stroke-width="0.5"/>
<path d="M70.0 174.4 77.0 172.6 75.6 175.6 71.0 176.4Z" fill="#172a7c" stroke="#555" stroke-opacity="0.7" stroke-width="0.5"/>
<path d="M54.0 162.4 58.0 160.0 56.0 165.0Z" fill="#172a7c" stroke="#555" stroke-opacity="0.7" stroke-width="0.5"/>
<path d="M176.5 245.3 177.6 246.5 178.8 250.6 180.6 255.3 182.1 256.8 183.8 252.9 183.2 247.1 184.1 240.0 176.5 240.0Z" fill="#172a7c"/>
<path d="M210.0 274.1 213.5 273.9 213.5 275.3 210.4 275.3Z" fill="url(#hatch)" stroke="#ccc" stroke-width="0.5"/>
<path d="M221.2 294.4 223.5 293.9 223.3 295.9 221.4 295.9Z" fill="#225ea8" stroke="#555" stroke-opacity="0.7" stroke-width="0.5"/>
<path d="M186.5 251.8 189.4 251.2 190.8 253.9 188.2 254.7Z" fill="url(#hatch)" stroke="#ccc" stroke-width="0.5"/>
<path d="M343.5 250.8 345.0 235.0 375.0 235.0 375.0 271.8 372.0 271.8Z" fill="#c6a3a6"/>
<path d="M334.1 250.0 340.5 245.5 342.0 240.3 345.0 235.0 360.0 235.0 360.8 237.3 355.5 241.0 350.3 244.8 344.3 247.8 343.5 250.8Z" fill="#8e7072"/>
<path d="M324.4 266.9 333.0 266.1 335.3 261.3 336.4 254.5 342.8 253.8 343.5 250.8 349.1 256.8 350.3 280.0 325.5 280.0Z" fill="#c6a3a6"/>
<path d="M349.1 256.8 372.0 272.1 372.0 280.0 350.3 280.0Z" fill="#8e7072"/>
<path d="M334.1 250.4 343.1 250.4 342.8 253.8 336.4 254.5 335.3 261.3 333.0 266.1 324.4 266.9 328.1 259.0Z" fill="url(#hatch)" stroke="#ccc" stroke-width="0.5"/>
<path d="M372.0 163.0 378.0 159.0 385.0 152.0 392.0 146.0 400.0 144.0 408.0 142.5 414.0 143.5 412.0 145.0 407.0 145.0 403.0 148.0 398.0 147.0 392.0 149.0 388.0 153.0 385.0 159.0 384.0 168.0 378.0 172.0 373.0 170.0Z" fill="#225ea8" stroke="#555" stroke-opacity="0.7" stroke-width="0.5"/>
<path d="M385.0 159.0 388.0 153.0 392.0 149.0 398.0 147.0 403.0 150.0 404.0 154.0 400.0 156.0 395.0 162.0 394.0 168.0 396.0 172.0 393.0 176.0 389.0 178.0 385.0 174.0 383.5 169.0 384.0 164.0Z" fill="#172a7c" stroke="#555" stroke-opacity="0.7" stroke-width="0.5"/>
<path d="M403.0 148.0 407.0 145.0 412.0 145.0 414.5 150.0 416.0 155.0 419.0 161.0 416.0 166.0 410.0 167.5 406.0 167.0 402.0 164.0 402.0 160.0 407.0 155.0 404.0 154.0 403.0 150.0Z" fill="#225ea8" stroke="#555" stroke-opacity="0.7" stroke-width="0.5"/>
<path d="M406.0 169.0 415.0 168.0 416.0 174.0 416.0 180.0 412.0 182.0 407.0 180.0 404.0 176.0 405.0 172.0Z" fill="#41b6c4" stroke="#555" stroke-opacity="0.7" stroke-width="0.5"/>
<path d="M409.0 180.0 416.0 177.0 424.0 180.0 426.0 185.0 422.0 189.0 410.0 189.0Z" fill="#8e7072" stroke="#555" stroke-opacity="0.7" stroke-width="0.5"/>
<path d="M378.5 175.0 382.0 173.0 383.5 180.0 380.0 180.0Z" fill="#225ea8" stroke="#555" stroke-opacity="0.7" stroke-width="0.5"/>
<path d="M384.0 178.0 387.0 177.5 386.5 179.5 384.5 179.5Z" fill="#225ea8" stroke="#555" stroke-opacity="0.7" stroke-width="0.5"/>
<path d="M322.9 282.9 324.7 289.4 330.6 297.1 337.6 304.1 345.3 310.6 350.6 309.4 358.8 308.8 367.1 307.1 371.8 305.9 371.8 286.5 349.4 282.4 325.9 281.8Z" fill="#c6a3a6" stroke="#555" stroke-opacity="0.7" stroke-width="0.5"/>
<path d="M335.9 282.4 350.0 282.4 350.0 270.0 371.8 270.0 371.8 282.9 365.9 290.0 358.8 282.9 350.6 294.7 344.7 295.3 343.5 290.0 336.5 290.0Z" fill="#8e7072"/>
<path d="M371.8 270.0 397.6 270.0 395.3 286.5 384.7 287.6 371.8 286.5Z" fill="#8e7072"/>
<path d="M350.6 294.7 358.8 282.9 365.9 290.0 365.3 293.5 355.9 293.5Z" fill="#8e7072" stroke="#555" stroke-opacity="0.7" stroke-width="0.5"/>
<path d="M325.3 289.8 336.5 290.0 343.5 290.0 344.7 295.3 342.9 301.8 338.8 299.4 332.4 296.5 327.1 293.5Z" fill="#8e7072" stroke="#555" stroke-opacity="0.7" stroke-width="0.5"/>
<path d="M322.9 279.2 329.4 278.2 335.3 282.9 336.5 289.8 331.2 288.8 325.3 289.4 324.1 286.5Z" fill="#41b6c4" stroke="#555" stroke-opacity="0.7" stroke-width="0.5"/>
<path d="M324.7 286.5 331.2 286.2 331.2 287.6 324.7 287.9Z" fill="#edf8b1" stroke="#555" stroke-opacity="0.7" stroke-width="0.5"/>
<path d="M336.5 300.4 339.4 300.8 343.5 304.1 345.3 310.6 340.6 308.2 337.1 304.1Z" fill="#c7e9b4" stroke="#555" stroke-opacity="0.7" stroke-width="0.5"/>
<path d="M355.9 293.5 363.8 293.5 364.7 307.6 358.8 309.1 356.2 305.3Z" fill="#c7e9b4" stroke="#555" stroke-opacity="0.7" stroke-width="0.5"/>
<path d="M370.0 290.6 376.5 287.1 385.9 287.4 395.3 286.5 395.9 291.2 390.6 298.2 385.9 302.9 382.4 311.2 376.5 308.8 371.8 305.9 370.0 298.2Z" fill="#edf8b1" stroke="#555" stroke-opacity="0.7" stroke-width="0.5"/>
<path d="M600.0 180.0 638.8 180.0 638.8 181.2 643.5 187.1 646.5 194.1 646.5 202.4 643.5 210.0 638.8 210.8 636.5 207.1 635.3 201.2 631.8 196.5 623.5 191.8 614.1 187.1 600.0 184.7Z" fill="#c6a3a6"/>
<path d="M600.0 184.7 614.1 187.1 623.5 191.8 631.8 196.5 635.3 201.2 636.5 207.1 635.3 210.6 630.6 214.1 627.6 215.3 623.5 218.8 619.4 216.5 615.3 220.6 616.5 223.5 622.4 229.4 627.1 235.3 631.8 241.2 634.1 250.6 600.0 250.6Z" fill="#8e7072"/>
<path d="M600.0 197.6 604.7 198.8 607.6 200.6 603.5 202.4 600.0 203.5Z" fill="#edf8b1"/>
<path d="M615.3 220.6 619.4 216.5 623.5 218.8 627.6 215.3 628.2 218.8 625.9 223.5 630.0 226.5 624.7 230.6 621.8 228.2 617.6 224.1Z" fill="#fff"/>
<path d="M627.6 215.3 630.6 214.1 635.3 210.6 638.8 211.8 637.6 218.8 634.1 223.5 630.6 221.2 628.2 218.8Z" fill="#8e7072" stroke="#555" stroke-opacity="0.7" stroke-width="0.5"/>
<path d="M634.1 222.4 638.8 221.2 642.9 225.9 644.1 230.6 640.0 232.4 635.3 229.4Z" fill="#41b6c4" stroke="#555" stroke-opacity="0.7" stroke-width="0.5"/>
<path d="M638.8 181.2 647.1 188.2 654.1 194.1 657.6 202.4 654.1 200.6 649.4 195.3 643.5 188.2Z" fill="#c6a3a6" stroke="#555" stroke-opacity="0.7" stroke-width="0.5"/>
<path d="M655.9 204.1 660.0 206.5 664.7 207.1 667.1 208.8 664.1 211.2 660.0 212.4 657.6 210.6 656.5 207.1Z" fill="#225ea8" stroke="#555" stroke-opacity="0.7" stroke-width="0.5"/>
<path d="M659.4 214.1 663.5 215.3 665.9 220.0 667.6 225.3 668.2 230.0 664.7 231.5 660.0 232.9 656.5 233.5 652.9 235.3 651.8 238.8 651.2 241.2 648.8 239.4 647.1 235.3 650.6 231.8 655.3 230.0 658.8 227.1 660.0 221.2 658.8 216.5Z" fill="#225ea8" stroke="#555" stroke-opacity="0.7" stroke-width="0.5"/>
<path d="M175.7 131.4 182.5 129.3 188.9 128.8 186.8 130.4 181.5 131.9 177.2 132.5Z" fill="#172a7c" stroke="#555" stroke-opacity="0.7" stroke-width="0.5"/>
<path d="M181.5 133.0 190.0 131.9 195.3 130.9 199.5 131.9 197.4 134.1 190.0 135.1 183.6 134.6Z" fill="#172a7c" stroke="#555" stroke-opacity="0.7" stroke-width="0.5"/>
<path d="M194.2 128.2 199.5 126.7 201.6 127.5 197.4 129.3Z" fill="#172a7c" stroke="#555" stroke-opacity="0.7" stroke-width="0.5"/>
<path d="M205.8 131.9 212.2 130.9 216.4 132.5 213.3 134.1 208.0 133.5Z" fill="#172a7c" stroke="#555" stroke-opacity="0.7" stroke-width="0.5"/>
<path d="M209.0 126.1 214.3 125.6 216.4 127.2 213.3 128.2 210.1 127.7Z" fill="#172a7c" stroke="#555" stroke-opacity="0.7" stroke-width="0.5"/>
<path d="M217.5 127.7 222.8 127.2 223.9 128.8 219.6 129.3Z" fill="#172a7c" stroke="#555" stroke-opacity="0.7" stroke-width="0.5"/>
<path d="M218.6 130.9 227.0 129.8 235.5 130.9 238.7 133.0 233.4 134.6 224.9 135.1 219.6 133.5Z" fill="#172a7c" stroke="#555" stroke-opacity="0.7" stroke-width="0.5"/>
<path d="M224.9 124.0 231.3 122.4 237.6 121.9 245.0 119.8 245.0 125.6 237.6 127.2 229.2 126.7Z" fill="#172a7c"/>
<path d="M159.2 140.4 165.6 137.2 170.9 135.7 178.3 136.2 176.2 137.8 168.8 139.4 161.4 142.0Z" fill="#172a7c" stroke="#555" stroke-opacity="0.7" stroke-width="0.5"/>
<path d="M168.8 139.4 176.2 137.8 185.7 137.8 192.1 139.4 194.2 143.1 190.0 145.7 181.5 146.8 170.9 146.2 168.8 143.6Z" fill="#172a7c" stroke="#555" stroke-opacity="0.7" stroke-width="0.5"/>
<path d="M198.4 139.4 203.7 137.2 210.1 136.7 212.2 139.4 208.0 142.5 202.7 143.6 199.5 142.0Z" fill="#172a7c" stroke="#555" stroke-opacity="0.7" stroke-width="0.5"/>
<path d="M210.1 136.2 216.4 135.7 219.6 137.2 217.5 140.4 212.2 140.4Z" fill="#172a7c" stroke="#555" stroke-opacity="0.7" stroke-width="0.5"/>
<path d="M216.4 139.4 222.8 137.2 231.3 136.7 239.7 137.8 245.0 139.4 245.0 150.1 218.6 150.1 216.4 144.7Z" fill="#172a7c"/>
<path d="M197.4 145.7 202.7 144.7 208.0 146.8 212.2 150.1 195.3 150.1Z" fill="#172a7c" stroke="#555" stroke-opacity="0.7" stroke-width="0.5"/>
<path d="M195.0 130.0 255.0 130.0 255.0 165.0 195.0 165.0Z" fill="#fff"/>
<path d="M216.2 140.6 220.4 137.8 226.1 137.1 233.1 137.8 237.3 139.9 244.4 142.0 250.0 144.8 255.0 151.2 250.8 155.4 245.8 153.3 247.2 159.6 243.0 161.1 237.3 159.6 233.1 157.5 226.8 156.8 225.3 156.1 231.7 154.7 237.3 153.3 238.0 149.8 234.5 146.9 227.5 147.6 221.8 146.2 217.6 144.1Z" fill="#172a7c"/>
<path d="M195.0 149.1 202.1 145.5 207.7 141.3 210.5 142.7 213.3 145.5 216.2 147.6 224.6 146.9 220.4 151.2 214.8 152.6 209.1 154.0 203.5 158.2 195.0 160.3Z" fill="#172a7c"/>
<path d="M195.0 160.0 203.5 158.2 209.1 154.0 214.8 152.6 220.4 151.2 216.9 159.5 195.0 160.2Z" fill="#172a7c"/>
<path d="M205.6 132.1 213.3 131.4 216.2 132.8 209.1 133.9Z" fill="#172a7c" stroke="#555" stroke-opacity="0.7" stroke-width="0.5"/>
<path d="M219.0 130.0 244.4 130.0 240.9 132.1 231.7 134.2 221.8 134.2Z" fill="#172a7c"/>
<path d="M199.2 138.5 204.2 136.4 209.1 137.1 207.0 140.6 201.4 141.3Z" fill="#172a7c" stroke="#555" stroke-opacity="0.7" stroke-width="0.5"/>
<path d="M210.5 137.8 217.6 136.4 219.7 137.4 214.1 139.2Z" fill="#172a7c" stroke="#555" stroke-opacity="0.7" stroke-width="0.5"/>
<path d="M195.0 130.0 200.6 130.0 199.9 132.8 195.0 133.5Z" fill="#172a7c"/>
<path d="M195.0 144.1 199.2 143.4 200.6 146.2 195.0 148.3Z" fill="#172a7c"/>
<path d="M209.1 159.6 211.9 154.7 216.2 156.1 219.7 158.2 216.2 159.6Z" fill="#172a7c" stroke="#555" stroke-opacity="0.7" stroke-width="0.5"/>
<path d="M221.8 163.2 230.3 161.8 233.1 165.0 221.1 165.0Z" fill="#172a7c" stroke="#555" stroke-opacity="0.7" stroke-width="0.5"/>
<path d="M211.2 161.1 215.5 160.3 214.8 162.5 211.9 162.8Z" fill="#172a7c" stroke="#555" stroke-opacity="0.7" stroke-width="0.5"/>
<path d="M397.6 302.4 L407.1 297.6 L414.1 292.9 L416.5 296.5" fill="none" stroke="#555" stroke-opacity="0.7" stroke-width="0.5"/>
<path d="M396.5 291.8 L398.8 302.4 L396.5 307.1 L397.6 314.1" fill="none" stroke="#555" stroke-opacity="0.7" stroke-width="0.5"/>
<path d="M397.6 314.1 L403.5 311.8 L408.2 309.4 L415.3 310.6 L424.7 308.2 L428.2 310.6" fill="none" stroke="#555" stroke-opacity="0.7" stroke-width="0.5"/>
<path d="M403.5 311.8 L401.2 324.7 L396.5 335.3 L391.8 335.3" fill="none" stroke="#555" stroke-opacity="0.7" stroke-width="0.5"/>
<path d="M384.7 315.3 L396.5 315.3 L397.6 314.1" fill="none" stroke="#555" stroke-opacity="0.7" stroke-width="0.5"/>
<path d="M387.1 318.8 L395.3 317.6 L394.1 327.1 L390.6 334.1" fill="none" stroke="#555" stroke-opacity="0.7" stroke-width="0.5"/>
<path d="M434.1 312.9 L431.8 318.8 L430.6 324.7" fill="none" stroke="#555" stroke-opacity="0.7" stroke-width="0.5"/>
<path d="M430.6 324.7 L442.4 324.7" fill="none" stroke="#555" stroke-opacity="0.7" stroke-width="0.5"/>
<path d="M430.6 324.7 L429.4 330.6 L430.6 340.0" fill="none" stroke="#555" stroke-opacity="0.7" stroke-width="0.5"/>
<path d="M390.0 336.0 L400.0 338.0 L406.0 342.0 L412.0 340.0 L416.0 350.0 L430.0 356.0 L428.0 344.0 L430.0 343.0 L440.0 343.0 L454.0 350.0" fill="none" stroke="#555" stroke-opacity="0.7" stroke-width="0.5"/>
<path d="M412.0 350.0 L413.0 366.0 L421.0 368.0" fill="none" stroke="#555" stroke-opacity="0.7" stroke-width="0.5"/>
<path d="M421.0 368.0 L430.0 364.0 L436.0 360.0 L438.0 364.0 L434.0 372.0 L436.0 380.0 L434.0 382.0" fill="none" stroke="#555" stroke-opacity="0.7" stroke-width="0.5"/>
<path d="M410.0 369.0 L408.0 389.0 L402.0 398.0" fill="none" stroke="#555" stroke-opacity="0.7" stroke-width="0.5"/>
<path d="M408.0 389.0 L418.0 388.0 L430.0 380.0" fill="none" stroke="#555" stroke-opacity="0.7" stroke-width="0.5"/>
<path d="M430.0 320.0 L430.0 332.0 L438.0 344.0" fill="none" stroke="#555" stroke-opacity="0.7" stroke-width="0.5"/>
<path d="M129.0 146.0 L104.0 167.0" fill="none" stroke="#555" stroke-opacity="0.7" stroke-width="0.5"/>
<path d="M114.6 194.5 L172.0 194.2 L178.0 196.0 L186.0 199.0 L192.0 202.0 L190.0 212.0 L194.0 209.0 L204.0 206.0 L214.0 204.0 L218.0 200.0" fill="none" stroke="#555" stroke-opacity="0.7" stroke-width="0.5"/>
<path d="M182.0 318.0 L189.0 322.0 L195.0 323.0" fill="none" stroke="#555" stroke-opacity="0.7" stroke-width="0.5"/>
<path d="M195.0 323.0 L200.0 320.0 L203.0 317.0 L200.0 304.0 L197.0 299.0" fill="none" stroke="#555" stroke-opacity="0.7" stroke-width="0.5"/>
<path d="M210.0 320.0 L216.0 317.0 L222.0 311.0" fill="none" stroke="#555" stroke-opacity="0.7" stroke-width="0.5"/>
<path d="M211.0 381.0 L210.0 390.0 L209.0 400.0 L210.0 410.0 L209.0 420.0 L211.0 430.0 L212.0 440.0 L215.0 450.0 L218.0 456.0 L224.0 459.0" fill="none" stroke="#555" stroke-opacity="0.7" stroke-width="0.5"/>
<path d="M222.0 375.0 L230.0 373.0 L240.0 382.0 L242.0 392.0 L234.0 392.0 L232.0 386.0 L224.0 380.0" fill="none" stroke="#555" stroke-opacity="0.7" stroke-width="0.5"/>
<path d="M242.0 392.0 L236.0 400.0 L235.0 406.0 L239.0 408.0 L247.0 407.0" fill="none" stroke="#555" stroke-opacity="0.7" stroke-width="0.5"/>
<path d="M239.0 408.0 L242.0 400.0 L247.0 407.0" fill="none" stroke="#555" stroke-opacity="0.7" stroke-width="0.5"/>
<path d="M459.2 200.8 L457.5 191.7 L463.3 187.5 L475.0 188.3 L483.3 185.8 L481.7 181.7 L495.0 178.3 L511.7 181.7 L520.0 186.7 L528.3 190.0 L536.7 193.3 L540.8 195.0" fill="none" stroke="#555" stroke-opacity="0.7" stroke-width="0.5"/>
<path d="M478.3 205.8 L483.3 203.3 L490.0 208.3 L498.3 210.0 L505.0 211.7 L513.3 210.0 L526.7 210.8 L528.3 215.0" fill="none" stroke="#555" stroke-opacity="0.7" stroke-width="0.5"/>
<path d="M478.3 205.8 L478.3 213.3 L486.7 215.0 L496.7 220.0 L503.3 220.0 L506.7 221.7" fill="none" stroke="#555" stroke-opacity="0.7" stroke-width="0.5"/>
<path d="M475.0 214.2 L483.3 223.3 L491.7 225.0 L496.7 228.3 L500.0 225.0" fill="none" stroke="#555" stroke-opacity="0.7" stroke-width="0.5"/>
<path d="M460.0 218.3 L465.0 230.0 L466.7 236.7 L470.0 245.0" fill="none" stroke="#555" stroke-opacity="0.7" stroke-width="0.5"/>
<path d="M458.3 218.3 L461.7 216.7 L464.2 213.3" fill="none" stroke="#555" stroke-opacity="0.7" stroke-width="0.5"/>
<path d="M496.7 228.3 L498.3 240.0 L503.3 248.3 L503.3 256.7 L506.7 263.3" fill="none" stroke="#555" stroke-opacity="0.7" stroke-width="0.5"/>
<path d="M523.3 231.7 L530.0 236.7 L528.3 245.0 L521.7 251.7 L518.3 260.0 L520.0 266.7" fill="none" stroke="#555" stroke-opacity="0.7" stroke-width="0.5"/>
<path d="M506.7 215.0 L515.0 213.3 L525.0 215.0 L521.7 218.3 L511.7 220.0 L508.3 221.7" fill="none" stroke="#555" stroke-opacity="0.7" stroke-width="0.5"/>
<path d="M435.0 186.7 L441.7 188.3 L444.2 193.3 L441.7 200.0 L436.7 201.7 L435.8 203.3" fill="none" stroke="#555" stroke-opacity="0.7" stroke-width="0.5"/>
<path d="M447.5 209.2 L453.3 210.8 L460.0 213.3 L465.0 215.0 L468.3 211.7" fill="none" stroke="#555" stroke-opacity="0.7" stroke-width="0.5"/>
<path d="M453.3 226.7 L460.8 233.3 L466.7 236.7" fill="none" stroke="#555" stroke-opacity="0.7" stroke-width="0.5"/>
</g><!--endland-->
<!-- legend -->
<g id="legend">
<rect x="273" y="519" width="61" height="12" fill="#edf8b1" stroke="#aaa" stroke-width="0.3"/>
<rect x="334" y="519" width="61" height="12" fill="#c7e9b4" stroke="#aaa" stroke-width="0.3"/>
<rect x="395" y="519" width="61" height="12" fill="#41b6c4" stroke="#aaa" stroke-width="0.3"/>
<rect x="456" y="519" width="61" height="12" fill="#225ea8" stroke="#aaa" stroke-width="0.3"/>
<path d="M517 519 H572 L577 525 L572 531 H517 Z" fill="#172a7c"/>
<g stroke="#777" stroke-width="0.6">
<line x1="273" y1="514" x2="273" y2="531"/><line x1="334" y1="514" x2="334" y2="531"/><line x1="395" y1="514" x2="395" y2="531"/><line x1="456" y1="514" x2="456" y2="531"/><line x1="517" y1="514" x2="517" y2="531"/>
</g>
<rect x="281" y="535" width="14" height="14" fill="#8e7072" stroke="#fff" stroke-width="0.5"/>
<rect x="421" y="535" width="14" height="14" fill="#c6a3a6" stroke="#fff" stroke-width="0.5"/>
</g>
</svg>
<div class="t lab" style="left:273px;top:501px;transform:translateX(-50%)">0 years</div>
<div class="t lab" style="left:334px;top:501px;transform:translateX(-50%)">18 years</div>
<div class="t lab" style="left:395px;top:501px;transform:translateX(-50%)">30 years</div>
<div class="t lab" style="left:456px;top:501px;transform:translateX(-50%)">60 years</div>
<div class="t lab" style="left:517px;top:501px;transform:translateX(-50%)">90 years</div>
<div class="t lab" style="left:300.5px;top:533px;font-size:14px">Closed autocracy</div>
<div class="t lab" style="left:440.5px;top:533px;font-size:14px">Electoral autocracy</div>
<div class="t" id="foot1"><b>Data source:</b> V-Dem (2026)</div>
<div class="t" id="foot2">OurWorldinData.org/democracy | CC BY</div>
</body></html>
